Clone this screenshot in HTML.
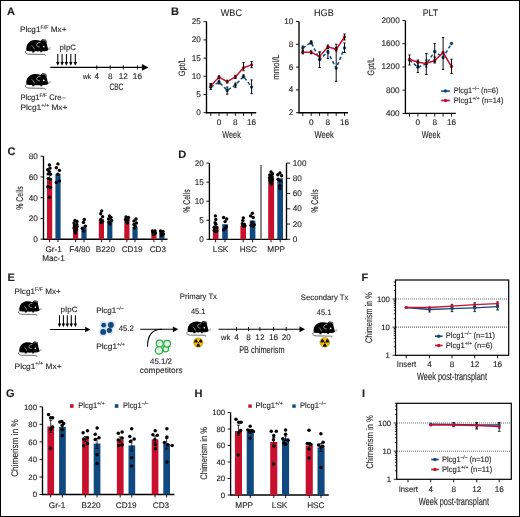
<!DOCTYPE html><html><head><meta charset="utf-8"><style>html,body{margin:0;padding:0;background:#fff;}svg{display:block;will-change:transform;} text{text-rendering:geometricPrecision; font-family:"Liberation Sans", sans-serif; fill:#231f20; stroke:#231f20; stroke-width:0.12px;}</style></head><body>
<svg width="520" height="517" viewBox="0 0 520 517">
<rect x="0" y="0" width="520" height="517" fill="#fff"/>
<rect x="0.5" y="0.5" width="519" height="516" fill="none" stroke="#000" stroke-width="1"/>
<text x="7" y="15.4" font-size="11" font-weight="bold" stroke-width="0.5" >A</text>
<text x="20" y="32" font-size="8" textLength="46.5" lengthAdjust="spacingAndGlyphs">Plcg1<tspan font-size="5.28" dy="-3.04">F/F</tspan><tspan dy="3.04"> Mx+</tspan></text>
<g transform="translate(24 37.6) scale(1)"><path d="M2.4,12.9 C2.0,10.5 2.4,7.8 4.0,5.8 C5.6,3.8 8.0,2.7 10.5,2.5 C12.6,2.3 14.8,2.6 16.6,3.4 C17.2,2.3 18.4,1.6 19.8,1.7 C21.2,1.8 22.4,2.6 22.6,3.6 C22.7,4.4 22.4,4.9 22.5,5.4 C23.0,7.0 23.4,8.8 23.8,10.4 L24.4,12.3 C23.7,12.9 22.9,13.2 22.0,13.3 C21.2,13.4 20.4,13.5 19.6,13.6 L18.4,13.7 L17.9,14.7 L16.3,14.7 L16.4,13.7 C14.6,13.8 12.6,13.8 10.6,13.7 L10.2,14.8 L8.2,14.8 L8.3,13.6 C6.4,13.6 4.4,13.4 3.0,13.3 Z" fill="#000"/><path d="M16.4,4.9 C14.6,4.7 13.0,5.6 12.8,7.0 C12.6,8.4 13.8,9.4 15.8,9.3" fill="none" stroke="#fff" stroke-width="0.6"/><path d="M18.2,3.6 C18.6,2.7 19.6,2.4 20.6,2.6 C21.6,2.9 21.9,3.6 21.6,4.3" fill="none" stroke="#fff" stroke-width="0.45"/><path d="M7.8,7.9 C8.6,8.6 9.2,9.4 9.6,10.1 C10.0,10.8 10.2,11.2 10.4,11.7" fill="none" stroke="#fff" stroke-width="0.55"/><circle cx="19.8" cy="8.9" r="0.85" fill="#fff"/><path d="M2.3,13.0 C1.1,13.6 0.9,15.2 2.2,15.8 C3.0,16.5 4.2,16.6 5.0,16.6 L19.6,16.8 C21.2,16.9 21.8,17.4 21.2,18.3" fill="none" stroke="#444" stroke-width="0.8"/><path d="M24.0,11.0 L26.6,9.9 M24.2,11.6 L26.8,11.3" stroke="#555" stroke-width="0.45"/></g>
<text x="59.4" y="50.2" font-size="7.8" textLength="16.5" lengthAdjust="spacingAndGlyphs" >pIpC</text>
<line x1="57.8" y1="54" x2="57.8" y2="62.7" stroke="#000" stroke-width="1.05" />
<path d="M56.05,62.1 L59.55,62.1 L57.8,65.7 Z" fill="#000"/>
<line x1="62.1" y1="54" x2="62.1" y2="62.7" stroke="#000" stroke-width="1.05" />
<path d="M60.35,62.1 L63.85,62.1 L62.1,65.7 Z" fill="#000"/>
<line x1="66.4" y1="54" x2="66.4" y2="62.7" stroke="#000" stroke-width="1.05" />
<path d="M64.65,62.1 L68.15,62.1 L66.4,65.7 Z" fill="#000"/>
<line x1="70.8" y1="54" x2="70.8" y2="62.7" stroke="#000" stroke-width="1.05" />
<path d="M69.05,62.1 L72.55,62.1 L70.8,65.7 Z" fill="#000"/>
<line x1="75.3" y1="54" x2="75.3" y2="62.7" stroke="#000" stroke-width="1.05" />
<path d="M73.55,62.1 L77.05,62.1 L75.3,65.7 Z" fill="#000"/>
<line x1="50.3" y1="67.4" x2="142.4" y2="67.4" stroke="#000" stroke-width="1.15" />
<path d="M141.9,64 L148.5,67.4 L141.9,70.8 Z" fill="#000"/>
<line x1="96.8" y1="65.3" x2="96.8" y2="69.5" stroke="#000" stroke-width="0.9" />
<line x1="110.2" y1="65.3" x2="110.2" y2="69.5" stroke="#000" stroke-width="0.9" />
<line x1="123.3" y1="65.3" x2="123.3" y2="69.5" stroke="#000" stroke-width="0.9" />
<line x1="137.4" y1="65.3" x2="137.4" y2="69.5" stroke="#000" stroke-width="0.9" />
<text x="83" y="79.1" font-size="7.5" textLength="8" lengthAdjust="spacingAndGlyphs" >wk</text>
<text x="96.8" y="79.1" font-size="8.2" text-anchor="middle" >4</text>
<text x="110.2" y="79.1" font-size="8.2" text-anchor="middle" >8</text>
<text x="123.3" y="79.1" font-size="8.2" text-anchor="middle" >12</text>
<text x="137.4" y="79.1" font-size="8.2" text-anchor="middle" >16</text>
<text x="109.5" y="89.9" font-size="9.4" textLength="13.8" lengthAdjust="spacingAndGlyphs" >CBC</text>
<g transform="translate(24 71.5) scale(1)"><path d="M2.4,12.9 C2.0,10.5 2.4,7.8 4.0,5.8 C5.6,3.8 8.0,2.7 10.5,2.5 C12.6,2.3 14.8,2.6 16.6,3.4 C17.2,2.3 18.4,1.6 19.8,1.7 C21.2,1.8 22.4,2.6 22.6,3.6 C22.7,4.4 22.4,4.9 22.5,5.4 C23.0,7.0 23.4,8.8 23.8,10.4 L24.4,12.3 C23.7,12.9 22.9,13.2 22.0,13.3 C21.2,13.4 20.4,13.5 19.6,13.6 L18.4,13.7 L17.9,14.7 L16.3,14.7 L16.4,13.7 C14.6,13.8 12.6,13.8 10.6,13.7 L10.2,14.8 L8.2,14.8 L8.3,13.6 C6.4,13.6 4.4,13.4 3.0,13.3 Z" fill="#000"/><path d="M16.4,4.9 C14.6,4.7 13.0,5.6 12.8,7.0 C12.6,8.4 13.8,9.4 15.8,9.3" fill="none" stroke="#fff" stroke-width="0.6"/><path d="M18.2,3.6 C18.6,2.7 19.6,2.4 20.6,2.6 C21.6,2.9 21.9,3.6 21.6,4.3" fill="none" stroke="#fff" stroke-width="0.45"/><path d="M7.8,7.9 C8.6,8.6 9.2,9.4 9.6,10.1 C10.0,10.8 10.2,11.2 10.4,11.7" fill="none" stroke="#fff" stroke-width="0.55"/><circle cx="19.8" cy="8.9" r="0.85" fill="#fff"/><path d="M2.3,13.0 C1.1,13.6 0.9,15.2 2.2,15.8 C3.0,16.5 4.2,16.6 5.0,16.6 L19.6,16.8 C21.2,16.9 21.8,17.4 21.2,18.3" fill="none" stroke="#444" stroke-width="0.8"/><path d="M24.0,11.0 L26.6,9.9 M24.2,11.6 L26.8,11.3" stroke="#555" stroke-width="0.45"/></g>
<text x="20.4" y="99.7" font-size="8" textLength="45.4" lengthAdjust="spacingAndGlyphs">Plcg1<tspan font-size="5.28" dy="-3.04">F/F</tspan><tspan dy="3.04"> Cre–</tspan></text>
<text x="20.4" y="110" font-size="8" textLength="47" lengthAdjust="spacingAndGlyphs">Plcg1<tspan font-size="5.28" dy="-3.04">+/+</tspan><tspan dy="3.04"> Mx+</tspan></text>
<text x="171" y="15" font-size="11" font-weight="bold" stroke-width="0.5" >B</text>
<line x1="206.5" y1="21.5" x2="206.5" y2="113.3" stroke="#000" stroke-width="1.35" />
<line x1="205.9" y1="112.7" x2="256.2" y2="112.7" stroke="#000" stroke-width="1.35" />
<line x1="203.5" y1="112.7" x2="206.5" y2="112.7" stroke="#000" stroke-width="0.9" />
<text x="200.8" y="115.2" font-size="8.2" text-anchor="end" >0</text>
<line x1="203.5" y1="94.5" x2="206.5" y2="94.5" stroke="#000" stroke-width="0.9" />
<text x="200.8" y="97" font-size="8.2" text-anchor="end" >5</text>
<line x1="203.5" y1="76.3" x2="206.5" y2="76.3" stroke="#000" stroke-width="0.9" />
<text x="200.8" y="78.8" font-size="8.2" text-anchor="end" >10</text>
<line x1="203.5" y1="58.1" x2="206.5" y2="58.1" stroke="#000" stroke-width="0.9" />
<text x="200.8" y="60.6" font-size="8.2" text-anchor="end" >15</text>
<line x1="203.5" y1="39.9" x2="206.5" y2="39.9" stroke="#000" stroke-width="0.9" />
<text x="200.8" y="42.4" font-size="8.2" text-anchor="end" >20</text>
<line x1="203.5" y1="21.7" x2="206.5" y2="21.7" stroke="#000" stroke-width="0.9" />
<text x="200.8" y="24.2" font-size="8.2" text-anchor="end" >25</text>
<line x1="210.8" y1="112.7" x2="210.8" y2="115.9" stroke="#000" stroke-width="0.9" />
<line x1="219" y1="112.7" x2="219" y2="115.9" stroke="#000" stroke-width="0.9" />
<line x1="227.2" y1="112.7" x2="227.2" y2="115.9" stroke="#000" stroke-width="0.9" />
<line x1="235.4" y1="112.7" x2="235.4" y2="115.9" stroke="#000" stroke-width="0.9" />
<line x1="243.5" y1="112.7" x2="243.5" y2="115.9" stroke="#000" stroke-width="0.9" />
<line x1="251.6" y1="112.7" x2="251.6" y2="115.9" stroke="#000" stroke-width="0.9" />
<text x="219" y="124.8" font-size="8.2" text-anchor="middle" >0</text>
<text x="235.4" y="124.8" font-size="8.2" text-anchor="middle" >8</text>
<text x="251.6" y="124.8" font-size="8.2" text-anchor="middle" >16</text>
<text x="222.3" y="137.8" font-size="10" textLength="18.5" lengthAdjust="spacingAndGlyphs" >Week</text>
<text x="220.8" y="15.8" font-size="9.6" textLength="21.2" lengthAdjust="spacingAndGlyphs" >WBC</text>
<text x="184.85" y="67.1" font-size="9.3" text-anchor="middle" stroke-width="0.22" transform="rotate(-90 184.85 67.1)" textLength="18.2" lengthAdjust="spacingAndGlyphs">Gpt/L</text>
<polyline points="210.8,87.1 219,82 227.2,90.4 235.4,85 243.5,76.3 251.6,87.1" fill="none" stroke="#10497f" stroke-width="1.5" stroke-dasharray="3.4 2.2"/>
<circle cx="210.8" cy="87.1" r="1.65" fill="#10497f" />
<circle cx="219" cy="82" r="1.65" fill="#10497f" />
<circle cx="227.2" cy="90.4" r="1.65" fill="#10497f" />
<circle cx="235.4" cy="85" r="1.65" fill="#10497f" />
<circle cx="243.5" cy="76.3" r="1.65" fill="#10497f" />
<circle cx="251.6" cy="87.1" r="1.65" fill="#10497f" />
<polyline points="210.8,85.7 219,77.1 227.2,81.6 235.4,76.9 243.5,67.7 251.6,64.9" fill="none" stroke="#c8102e" stroke-width="1.5"/>
<circle cx="210.8" cy="85.7" r="1.65" fill="#c8102e" />
<circle cx="219" cy="77.1" r="1.65" fill="#c8102e" />
<circle cx="227.2" cy="81.6" r="1.65" fill="#c8102e" />
<circle cx="235.4" cy="76.9" r="1.65" fill="#c8102e" />
<circle cx="243.5" cy="67.7" r="1.65" fill="#c8102e" />
<circle cx="251.6" cy="64.9" r="1.65" fill="#c8102e" />
<line x1="210.8" y1="84" x2="210.8" y2="87.5" stroke="#000" stroke-width="0.95" />
<line x1="209.6" y1="84" x2="212" y2="84" stroke="#000" stroke-width="0.9" />
<line x1="209.6" y1="87.5" x2="212" y2="87.5" stroke="#000" stroke-width="0.9" />
<line x1="210.8" y1="83.5" x2="210.8" y2="89.6" stroke="#000" stroke-width="0.95" />
<line x1="209.6" y1="83.5" x2="212" y2="83.5" stroke="#000" stroke-width="0.9" />
<line x1="209.6" y1="89.6" x2="212" y2="89.6" stroke="#000" stroke-width="0.9" />
<line x1="219" y1="75.8" x2="219" y2="78.4" stroke="#000" stroke-width="0.95" />
<line x1="217.8" y1="75.8" x2="220.2" y2="75.8" stroke="#000" stroke-width="0.9" />
<line x1="217.8" y1="78.4" x2="220.2" y2="78.4" stroke="#000" stroke-width="0.9" />
<line x1="219" y1="80" x2="219" y2="84" stroke="#000" stroke-width="0.95" />
<line x1="217.8" y1="80" x2="220.2" y2="80" stroke="#000" stroke-width="0.9" />
<line x1="217.8" y1="84" x2="220.2" y2="84" stroke="#000" stroke-width="0.9" />
<line x1="227.2" y1="80.2" x2="227.2" y2="83" stroke="#000" stroke-width="0.95" />
<line x1="226" y1="80.2" x2="228.4" y2="80.2" stroke="#000" stroke-width="0.9" />
<line x1="226" y1="83" x2="228.4" y2="83" stroke="#000" stroke-width="0.9" />
<line x1="227.2" y1="87" x2="227.2" y2="94.2" stroke="#000" stroke-width="0.95" />
<line x1="226" y1="87" x2="228.4" y2="87" stroke="#000" stroke-width="0.9" />
<line x1="226" y1="94.2" x2="228.4" y2="94.2" stroke="#000" stroke-width="0.9" />
<line x1="235.4" y1="75.3" x2="235.4" y2="78.5" stroke="#000" stroke-width="0.95" />
<line x1="234.2" y1="75.3" x2="236.6" y2="75.3" stroke="#000" stroke-width="0.9" />
<line x1="234.2" y1="78.5" x2="236.6" y2="78.5" stroke="#000" stroke-width="0.9" />
<line x1="235.4" y1="83" x2="235.4" y2="87.6" stroke="#000" stroke-width="0.95" />
<line x1="234.2" y1="83" x2="236.6" y2="83" stroke="#000" stroke-width="0.9" />
<line x1="234.2" y1="87.6" x2="236.6" y2="87.6" stroke="#000" stroke-width="0.9" />
<line x1="243.5" y1="62.6" x2="243.5" y2="70.7" stroke="#000" stroke-width="0.95" />
<line x1="242.3" y1="62.6" x2="244.7" y2="62.6" stroke="#000" stroke-width="0.9" />
<line x1="242.3" y1="70.7" x2="244.7" y2="70.7" stroke="#000" stroke-width="0.9" />
<line x1="243.5" y1="74.8" x2="243.5" y2="77.9" stroke="#000" stroke-width="0.95" />
<line x1="242.3" y1="74.8" x2="244.7" y2="74.8" stroke="#000" stroke-width="0.9" />
<line x1="242.3" y1="77.9" x2="244.7" y2="77.9" stroke="#000" stroke-width="0.9" />
<line x1="251.6" y1="61.6" x2="251.6" y2="67.7" stroke="#000" stroke-width="0.95" />
<line x1="250.4" y1="61.6" x2="252.8" y2="61.6" stroke="#000" stroke-width="0.9" />
<line x1="250.4" y1="67.7" x2="252.8" y2="67.7" stroke="#000" stroke-width="0.9" />
<line x1="251.6" y1="79.9" x2="251.6" y2="93.7" stroke="#000" stroke-width="0.95" />
<line x1="250.4" y1="79.9" x2="252.8" y2="79.9" stroke="#000" stroke-width="0.9" />
<line x1="250.4" y1="93.7" x2="252.8" y2="93.7" stroke="#000" stroke-width="0.9" />
<line x1="299" y1="21.5" x2="299" y2="113.3" stroke="#000" stroke-width="1.35" />
<line x1="298.4" y1="112.7" x2="348" y2="112.7" stroke="#000" stroke-width="1.35" />
<line x1="296" y1="112.7" x2="299" y2="112.7" stroke="#000" stroke-width="0.9" />
<text x="293.4" y="115.2" font-size="8.2" text-anchor="end" >2</text>
<line x1="296" y1="89.9" x2="299" y2="89.9" stroke="#000" stroke-width="0.9" />
<text x="293.4" y="92.4" font-size="8.2" text-anchor="end" >4</text>
<line x1="296" y1="67.1" x2="299" y2="67.1" stroke="#000" stroke-width="0.9" />
<text x="293.4" y="69.6" font-size="8.2" text-anchor="end" >6</text>
<line x1="296" y1="44.3" x2="299" y2="44.3" stroke="#000" stroke-width="0.9" />
<text x="293.4" y="46.8" font-size="8.2" text-anchor="end" >8</text>
<line x1="296" y1="21.5" x2="299" y2="21.5" stroke="#000" stroke-width="0.9" />
<text x="293.4" y="24" font-size="8.2" text-anchor="end" >10</text>
<line x1="302.8" y1="112.7" x2="302.8" y2="115.9" stroke="#000" stroke-width="0.9" />
<line x1="311.2" y1="112.7" x2="311.2" y2="115.9" stroke="#000" stroke-width="0.9" />
<line x1="319.6" y1="112.7" x2="319.6" y2="115.9" stroke="#000" stroke-width="0.9" />
<line x1="327.9" y1="112.7" x2="327.9" y2="115.9" stroke="#000" stroke-width="0.9" />
<line x1="336.2" y1="112.7" x2="336.2" y2="115.9" stroke="#000" stroke-width="0.9" />
<line x1="344.5" y1="112.7" x2="344.5" y2="115.9" stroke="#000" stroke-width="0.9" />
<text x="311.2" y="124.8" font-size="8.2" text-anchor="middle" >0</text>
<text x="327.9" y="124.8" font-size="8.2" text-anchor="middle" >8</text>
<text x="344.5" y="124.8" font-size="8.2" text-anchor="middle" >16</text>
<text x="314.4" y="137.8" font-size="10" textLength="19.3" lengthAdjust="spacingAndGlyphs" >Week</text>
<text x="314" y="15.8" font-size="9.6" textLength="19.7" lengthAdjust="spacingAndGlyphs" >HGB</text>
<text x="279.25" y="67.05" font-size="9.3" text-anchor="middle" stroke-width="0.22" transform="rotate(-90 279.25 67.05)" textLength="25.5" lengthAdjust="spacingAndGlyphs">mmol/L</text>
<polyline points="302.8,48.1 311.2,42.4 319.6,59.4 327.9,52 336.2,68.1 344.5,47.8" fill="none" stroke="#10497f" stroke-width="1.5" stroke-dasharray="3.4 2.2"/>
<circle cx="302.8" cy="48.1" r="1.65" fill="#10497f" />
<circle cx="311.2" cy="42.4" r="1.65" fill="#10497f" />
<circle cx="319.6" cy="59.4" r="1.65" fill="#10497f" />
<circle cx="327.9" cy="52" r="1.65" fill="#10497f" />
<circle cx="336.2" cy="68.1" r="1.65" fill="#10497f" />
<circle cx="344.5" cy="47.8" r="1.65" fill="#10497f" />
<polyline points="302.8,52.3 311.2,52.3 319.6,56.4 327.9,46.8 336.2,49.3 344.5,37" fill="none" stroke="#c8102e" stroke-width="1.5"/>
<circle cx="302.8" cy="52.3" r="1.65" fill="#c8102e" />
<circle cx="311.2" cy="52.3" r="1.65" fill="#c8102e" />
<circle cx="319.6" cy="56.4" r="1.65" fill="#c8102e" />
<circle cx="327.9" cy="46.8" r="1.65" fill="#c8102e" />
<circle cx="336.2" cy="49.3" r="1.65" fill="#c8102e" />
<circle cx="344.5" cy="37" r="1.65" fill="#c8102e" />
<line x1="302.8" y1="50.8" x2="302.8" y2="53.8" stroke="#000" stroke-width="0.95" />
<line x1="301.6" y1="50.8" x2="304" y2="50.8" stroke="#000" stroke-width="0.9" />
<line x1="301.6" y1="53.8" x2="304" y2="53.8" stroke="#000" stroke-width="0.9" />
<line x1="302.8" y1="46" x2="302.8" y2="50.8" stroke="#000" stroke-width="0.95" />
<line x1="301.6" y1="46" x2="304" y2="46" stroke="#000" stroke-width="0.9" />
<line x1="301.6" y1="50.8" x2="304" y2="50.8" stroke="#000" stroke-width="0.9" />
<line x1="311.2" y1="50.8" x2="311.2" y2="53.8" stroke="#000" stroke-width="0.95" />
<line x1="310" y1="50.8" x2="312.4" y2="50.8" stroke="#000" stroke-width="0.9" />
<line x1="310" y1="53.8" x2="312.4" y2="53.8" stroke="#000" stroke-width="0.9" />
<line x1="311.2" y1="40.8" x2="311.2" y2="44" stroke="#000" stroke-width="0.95" />
<line x1="310" y1="40.8" x2="312.4" y2="40.8" stroke="#000" stroke-width="0.9" />
<line x1="310" y1="44" x2="312.4" y2="44" stroke="#000" stroke-width="0.9" />
<line x1="319.6" y1="52" x2="319.6" y2="60" stroke="#000" stroke-width="0.95" />
<line x1="318.4" y1="52" x2="320.8" y2="52" stroke="#000" stroke-width="0.9" />
<line x1="318.4" y1="60" x2="320.8" y2="60" stroke="#000" stroke-width="0.9" />
<line x1="319.6" y1="52" x2="319.6" y2="67.5" stroke="#000" stroke-width="0.95" />
<line x1="318.4" y1="52" x2="320.8" y2="52" stroke="#000" stroke-width="0.9" />
<line x1="318.4" y1="67.5" x2="320.8" y2="67.5" stroke="#000" stroke-width="0.9" />
<line x1="327.9" y1="45" x2="327.9" y2="48.5" stroke="#000" stroke-width="0.95" />
<line x1="326.7" y1="45" x2="329.1" y2="45" stroke="#000" stroke-width="0.9" />
<line x1="326.7" y1="48.5" x2="329.1" y2="48.5" stroke="#000" stroke-width="0.9" />
<line x1="327.9" y1="50.2" x2="327.9" y2="58.5" stroke="#000" stroke-width="0.95" />
<line x1="326.7" y1="50.2" x2="329.1" y2="50.2" stroke="#000" stroke-width="0.9" />
<line x1="326.7" y1="58.5" x2="329.1" y2="58.5" stroke="#000" stroke-width="0.9" />
<line x1="336.2" y1="47.5" x2="336.2" y2="51" stroke="#000" stroke-width="0.95" />
<line x1="335" y1="47.5" x2="337.4" y2="47.5" stroke="#000" stroke-width="0.9" />
<line x1="335" y1="51" x2="337.4" y2="51" stroke="#000" stroke-width="0.9" />
<line x1="336.2" y1="44.2" x2="336.2" y2="81.3" stroke="#000" stroke-width="0.95" />
<line x1="335" y1="44.2" x2="337.4" y2="44.2" stroke="#000" stroke-width="0.9" />
<line x1="335" y1="81.3" x2="337.4" y2="81.3" stroke="#000" stroke-width="0.9" />
<line x1="344.5" y1="34" x2="344.5" y2="40" stroke="#000" stroke-width="0.95" />
<line x1="343.3" y1="34" x2="345.7" y2="34" stroke="#000" stroke-width="0.9" />
<line x1="343.3" y1="40" x2="345.7" y2="40" stroke="#000" stroke-width="0.9" />
<line x1="344.5" y1="43" x2="344.5" y2="52.5" stroke="#000" stroke-width="0.95" />
<line x1="343.3" y1="43" x2="345.7" y2="43" stroke="#000" stroke-width="0.9" />
<line x1="343.3" y1="52.5" x2="345.7" y2="52.5" stroke="#000" stroke-width="0.9" />
<line x1="405.4" y1="20.5" x2="405.4" y2="114" stroke="#000" stroke-width="1.35" />
<line x1="404.8" y1="113.4" x2="455.8" y2="113.4" stroke="#000" stroke-width="1.35" />
<line x1="402.4" y1="113.4" x2="405.4" y2="113.4" stroke="#000" stroke-width="0.9" />
<text x="399.7" y="115.9" font-size="8.2" text-anchor="end" >400</text>
<line x1="402.4" y1="90.18" x2="405.4" y2="90.18" stroke="#000" stroke-width="0.9" />
<text x="399.7" y="92.68" font-size="8.2" text-anchor="end" >800</text>
<line x1="402.4" y1="66.96" x2="405.4" y2="66.96" stroke="#000" stroke-width="0.9" />
<text x="399.7" y="69.46" font-size="8.2" text-anchor="end" >1200</text>
<line x1="402.4" y1="43.74" x2="405.4" y2="43.74" stroke="#000" stroke-width="0.9" />
<text x="399.7" y="46.24" font-size="8.2" text-anchor="end" >1600</text>
<line x1="402.4" y1="20.52" x2="405.4" y2="20.52" stroke="#000" stroke-width="0.9" />
<text x="399.7" y="23.02" font-size="8.2" text-anchor="end" >2000</text>
<line x1="409.5" y1="113.4" x2="409.5" y2="116.6" stroke="#000" stroke-width="0.9" />
<line x1="417.9" y1="113.4" x2="417.9" y2="116.6" stroke="#000" stroke-width="0.9" />
<line x1="426.3" y1="113.4" x2="426.3" y2="116.6" stroke="#000" stroke-width="0.9" />
<line x1="434.7" y1="113.4" x2="434.7" y2="116.6" stroke="#000" stroke-width="0.9" />
<line x1="443.1" y1="113.4" x2="443.1" y2="116.6" stroke="#000" stroke-width="0.9" />
<line x1="451.5" y1="113.4" x2="451.5" y2="116.6" stroke="#000" stroke-width="0.9" />
<text x="417.9" y="124.8" font-size="8.2" text-anchor="middle" >0</text>
<text x="434.7" y="124.8" font-size="8.2" text-anchor="middle" >8</text>
<text x="451.5" y="124.8" font-size="8.2" text-anchor="middle" >16</text>
<text x="421.8" y="137.8" font-size="10" textLength="18.5" lengthAdjust="spacingAndGlyphs" >Week</text>
<text x="422.7" y="15.8" font-size="9.6" textLength="15.3" lengthAdjust="spacingAndGlyphs" >PLT</text>
<text x="374.25" y="66.6" font-size="9.3" text-anchor="middle" stroke-width="0.22" transform="rotate(-90 374.25 66.6)" textLength="17.6" lengthAdjust="spacingAndGlyphs">Gpt/L</text>
<polyline points="409.5,60 417.9,67.2 426.3,64 434.7,51.5 443.1,57.5 451.5,43.5" fill="none" stroke="#10497f" stroke-width="1.5" stroke-dasharray="3.4 2.2"/>
<circle cx="409.5" cy="60" r="1.65" fill="#10497f" />
<circle cx="417.9" cy="67.2" r="1.65" fill="#10497f" />
<circle cx="426.3" cy="64" r="1.65" fill="#10497f" />
<circle cx="434.7" cy="51.5" r="1.65" fill="#10497f" />
<circle cx="443.1" cy="57.5" r="1.65" fill="#10497f" />
<circle cx="451.5" cy="43.5" r="1.65" fill="#10497f" />
<polyline points="409.5,59.2 417.9,62.2 426.3,63.5 434.7,60.5 443.1,52.5 451.5,66.5" fill="none" stroke="#c8102e" stroke-width="1.5"/>
<circle cx="409.5" cy="59.2" r="1.65" fill="#c8102e" />
<circle cx="417.9" cy="62.2" r="1.65" fill="#c8102e" />
<circle cx="426.3" cy="63.5" r="1.65" fill="#c8102e" />
<circle cx="434.7" cy="60.5" r="1.65" fill="#c8102e" />
<circle cx="443.1" cy="52.5" r="1.65" fill="#c8102e" />
<circle cx="451.5" cy="66.5" r="1.65" fill="#c8102e" />
<line x1="409.5" y1="55" x2="409.5" y2="65" stroke="#000" stroke-width="0.95" />
<line x1="408.3" y1="55" x2="410.7" y2="55" stroke="#000" stroke-width="0.9" />
<line x1="408.3" y1="65" x2="410.7" y2="65" stroke="#000" stroke-width="0.9" />
<line x1="417.9" y1="60" x2="417.9" y2="66" stroke="#000" stroke-width="0.95" />
<line x1="416.7" y1="60" x2="419.1" y2="60" stroke="#000" stroke-width="0.9" />
<line x1="416.7" y1="66" x2="419.1" y2="66" stroke="#000" stroke-width="0.9" />
<line x1="417.9" y1="61" x2="417.9" y2="72.5" stroke="#000" stroke-width="0.95" />
<line x1="416.7" y1="61" x2="419.1" y2="61" stroke="#000" stroke-width="0.9" />
<line x1="416.7" y1="72.5" x2="419.1" y2="72.5" stroke="#000" stroke-width="0.9" />
<line x1="426.3" y1="60" x2="426.3" y2="67" stroke="#000" stroke-width="0.95" />
<line x1="425.1" y1="60" x2="427.5" y2="60" stroke="#000" stroke-width="0.9" />
<line x1="425.1" y1="67" x2="427.5" y2="67" stroke="#000" stroke-width="0.9" />
<line x1="426.3" y1="53.5" x2="426.3" y2="74.5" stroke="#000" stroke-width="0.95" />
<line x1="425.1" y1="53.5" x2="427.5" y2="53.5" stroke="#000" stroke-width="0.9" />
<line x1="425.1" y1="74.5" x2="427.5" y2="74.5" stroke="#000" stroke-width="0.9" />
<line x1="434.7" y1="57" x2="434.7" y2="63" stroke="#000" stroke-width="0.95" />
<line x1="433.5" y1="57" x2="435.9" y2="57" stroke="#000" stroke-width="0.9" />
<line x1="433.5" y1="63" x2="435.9" y2="63" stroke="#000" stroke-width="0.9" />
<line x1="434.7" y1="43.5" x2="434.7" y2="62" stroke="#000" stroke-width="0.95" />
<line x1="433.5" y1="43.5" x2="435.9" y2="43.5" stroke="#000" stroke-width="0.9" />
<line x1="433.5" y1="62" x2="435.9" y2="62" stroke="#000" stroke-width="0.9" />
<line x1="443.1" y1="37.5" x2="443.1" y2="69.5" stroke="#000" stroke-width="0.95" />
<line x1="441.9" y1="37.5" x2="444.3" y2="37.5" stroke="#000" stroke-width="0.9" />
<line x1="441.9" y1="69.5" x2="444.3" y2="69.5" stroke="#000" stroke-width="0.9" />
<line x1="451.5" y1="59.2" x2="451.5" y2="73.5" stroke="#000" stroke-width="0.95" />
<line x1="450.3" y1="59.2" x2="452.7" y2="59.2" stroke="#000" stroke-width="0.9" />
<line x1="450.3" y1="73.5" x2="452.7" y2="73.5" stroke="#000" stroke-width="0.9" />
<line x1="441.2" y1="91.1" x2="449.9" y2="91.1" stroke="#10497f" stroke-width="1.6" />
<circle cx="445.5" cy="91.1" r="1.75" fill="#10497f" />
<text x="453.8" y="93.4" font-size="7.8" textLength="44.6" lengthAdjust="spacingAndGlyphs">Plcg1<tspan font-size="5.15" dy="-2.96">–/–</tspan><tspan dy="2.96"> (n=6)</tspan></text>
<line x1="441.2" y1="100.5" x2="449.9" y2="100.5" stroke="#c8102e" stroke-width="1.6" />
<circle cx="445.5" cy="100.5" r="1.75" fill="#c8102e" />
<text x="453.8" y="102.8" font-size="7.8" textLength="49.7" lengthAdjust="spacingAndGlyphs">Plcg1<tspan font-size="5.15" dy="-2.96">+/+</tspan><tspan dy="2.96"> (n=14)</tspan></text>
<text x="7.4" y="155.3" font-size="11" font-weight="bold" stroke-width="0.5" >C</text>
<line x1="43.5" y1="156.2" x2="43.5" y2="239.8" stroke="#000" stroke-width="1.35" />
<line x1="42.9" y1="239.2" x2="167.5" y2="239.2" stroke="#000" stroke-width="1.35" />
<line x1="40.5" y1="239.2" x2="43.5" y2="239.2" stroke="#000" stroke-width="0.9" />
<text x="37.9" y="242.1" font-size="8.2" text-anchor="end" >0</text>
<line x1="40.5" y1="218.45" x2="43.5" y2="218.45" stroke="#000" stroke-width="0.9" />
<text x="37.9" y="221.35" font-size="8.2" text-anchor="end" >20</text>
<line x1="40.5" y1="197.7" x2="43.5" y2="197.7" stroke="#000" stroke-width="0.9" />
<text x="37.9" y="200.6" font-size="8.2" text-anchor="end" >40</text>
<line x1="40.5" y1="176.95" x2="43.5" y2="176.95" stroke="#000" stroke-width="0.9" />
<text x="37.9" y="179.85" font-size="8.2" text-anchor="end" >60</text>
<line x1="40.5" y1="156.2" x2="43.5" y2="156.2" stroke="#000" stroke-width="0.9" />
<text x="37.9" y="159.1" font-size="8.2" text-anchor="end" >80</text>
<text x="23.03" y="198" font-size="9.8" text-anchor="middle" stroke-width="0.22" transform="rotate(-90 23.03 198)" textLength="23.5" lengthAdjust="spacingAndGlyphs">% Cells</text>
<line x1="49.6" y1="239.2" x2="49.6" y2="242.2" stroke="#000" stroke-width="0.9" />
<line x1="58" y1="239.2" x2="58" y2="242.2" stroke="#000" stroke-width="0.9" />
<line x1="75.6" y1="239.2" x2="75.6" y2="242.2" stroke="#000" stroke-width="0.9" />
<line x1="84" y1="239.2" x2="84" y2="242.2" stroke="#000" stroke-width="0.9" />
<line x1="101.4" y1="239.2" x2="101.4" y2="242.2" stroke="#000" stroke-width="0.9" />
<line x1="109.8" y1="239.2" x2="109.8" y2="242.2" stroke="#000" stroke-width="0.9" />
<line x1="126.9" y1="239.2" x2="126.9" y2="242.2" stroke="#000" stroke-width="0.9" />
<line x1="135" y1="239.2" x2="135" y2="242.2" stroke="#000" stroke-width="0.9" />
<line x1="153.9" y1="239.2" x2="153.9" y2="242.2" stroke="#000" stroke-width="0.9" />
<line x1="161.9" y1="239.2" x2="161.9" y2="242.2" stroke="#000" stroke-width="0.9" />
<rect x="47" y="180.1" width="5.2" height="59.1" fill="#c8102e"/>
<circle cx="49.4" cy="165" r="1.7" fill="#000" />
<circle cx="50.1" cy="168.1" r="1.7" fill="#000" />
<circle cx="47.8" cy="169.7" r="1.7" fill="#000" />
<circle cx="49.4" cy="171.6" r="1.7" fill="#000" />
<circle cx="48.2" cy="173.9" r="1.7" fill="#000" />
<circle cx="50.5" cy="174.3" r="1.7" fill="#000" />
<circle cx="48.2" cy="178.6" r="1.7" fill="#000" />
<circle cx="50.5" cy="179.4" r="1.7" fill="#000" />
<circle cx="47.8" cy="186.7" r="1.7" fill="#000" />
<circle cx="50.5" cy="187.5" r="1.7" fill="#000" />
<circle cx="49.4" cy="197.2" r="1.7" fill="#000" />
<line x1="49.6" y1="176" x2="49.6" y2="184" stroke="#000" stroke-width="0.8" />
<rect x="55.4" y="173.9" width="5.2" height="65.3" fill="#10497f"/>
<circle cx="57.9" cy="163.9" r="1.7" fill="#000" />
<circle cx="56.3" cy="167.7" r="1.7" fill="#000" />
<circle cx="59.4" cy="170.4" r="1.7" fill="#000" />
<circle cx="57.9" cy="174.3" r="1.7" fill="#000" />
<circle cx="56.3" cy="182.4" r="1.7" fill="#000" />
<circle cx="59.4" cy="180.9" r="1.7" fill="#000" />
<rect x="73" y="226" width="5.2" height="13.2" fill="#c8102e"/>
<circle cx="75" cy="220.5" r="1.7" fill="#000" />
<circle cx="77" cy="221.5" r="1.7" fill="#000" />
<circle cx="74" cy="223" r="1.7" fill="#000" />
<circle cx="76.8" cy="224.5" r="1.7" fill="#000" />
<circle cx="74.5" cy="225.5" r="1.7" fill="#000" />
<circle cx="77" cy="226.5" r="1.7" fill="#000" />
<circle cx="74" cy="228" r="1.7" fill="#000" />
<circle cx="76.5" cy="229.5" r="1.7" fill="#000" />
<circle cx="75" cy="231" r="1.7" fill="#000" />
<circle cx="75.5" cy="233" r="1.7" fill="#000" />
<rect x="81.4" y="227.8" width="5.2" height="11.4" fill="#10497f"/>
<circle cx="84.3" cy="219.5" r="1.7" fill="#000" />
<circle cx="83.4" cy="222.4" r="1.7" fill="#000" />
<circle cx="85.3" cy="226.3" r="1.7" fill="#000" />
<circle cx="82.4" cy="228.2" r="1.7" fill="#000" />
<circle cx="83.8" cy="231.1" r="1.7" fill="#000" />
<rect x="98.8" y="219.2" width="5.2" height="20" fill="#c8102e"/>
<circle cx="101.7" cy="210.9" r="1.7" fill="#000" />
<circle cx="100.7" cy="213.8" r="1.7" fill="#000" />
<circle cx="102.6" cy="216.7" r="1.7" fill="#000" />
<circle cx="100.7" cy="219.5" r="1.7" fill="#000" />
<circle cx="102.6" cy="221.5" r="1.7" fill="#000" />
<circle cx="101.2" cy="222.5" r="1.7" fill="#000" />
<rect x="107.2" y="221.4" width="5.2" height="17.8" fill="#10497f"/>
<circle cx="109.5" cy="216" r="1.7" fill="#000" />
<circle cx="111" cy="217.5" r="1.7" fill="#000" />
<circle cx="108.5" cy="219" r="1.7" fill="#000" />
<circle cx="111.5" cy="220.5" r="1.7" fill="#000" />
<circle cx="109" cy="222" r="1.7" fill="#000" />
<circle cx="110" cy="224" r="1.7" fill="#000" />
<rect x="124.3" y="220.6" width="5.2" height="18.6" fill="#c8102e"/>
<circle cx="126" cy="217" r="1.7" fill="#000" />
<circle cx="128.5" cy="217.5" r="1.7" fill="#000" />
<circle cx="125.5" cy="219.5" r="1.7" fill="#000" />
<circle cx="128" cy="220" r="1.7" fill="#000" />
<circle cx="126.5" cy="222" r="1.7" fill="#000" />
<circle cx="127.5" cy="223" r="1.7" fill="#000" />
<rect x="132.4" y="226.8" width="5.2" height="12.4" fill="#10497f"/>
<circle cx="136" cy="219" r="1.7" fill="#000" />
<circle cx="134" cy="221" r="1.7" fill="#000" />
<circle cx="136.5" cy="223" r="1.7" fill="#000" />
<circle cx="134" cy="224.5" r="1.7" fill="#000" />
<circle cx="135.5" cy="226.5" r="1.7" fill="#000" />
<circle cx="134.5" cy="228" r="1.7" fill="#000" />
<rect x="151.3" y="232.7" width="5.2" height="6.5" fill="#c8102e"/>
<circle cx="152.5" cy="231" r="1.7" fill="#000" />
<circle cx="155" cy="231" r="1.7" fill="#000" />
<circle cx="153" cy="232.5" r="1.7" fill="#000" />
<circle cx="155.5" cy="233" r="1.7" fill="#000" />
<circle cx="153.5" cy="234.5" r="1.7" fill="#000" />
<rect x="159.3" y="233.5" width="5.2" height="5.7" fill="#10497f"/>
<circle cx="160.5" cy="231" r="1.7" fill="#000" />
<circle cx="163" cy="231.5" r="1.7" fill="#000" />
<circle cx="161" cy="233" r="1.7" fill="#000" />
<circle cx="163.5" cy="234" r="1.7" fill="#000" />
<circle cx="161.5" cy="235.5" r="1.7" fill="#000" />
<text x="53.6" y="251.8" font-size="8.2" text-anchor="middle" >Gr-1</text>
<text x="79.6" y="251.8" font-size="8.2" text-anchor="middle" >F4/80</text>
<text x="105.4" y="251.8" font-size="8.2" text-anchor="middle" >B220</text>
<text x="132.1" y="251.8" font-size="8.2" text-anchor="middle" >CD19</text>
<text x="157.9" y="251.8" font-size="8.2" text-anchor="middle" >CD3</text>
<text x="53.5" y="261.4" font-size="8.2" text-anchor="middle" >Mac-1</text>
<text x="178.3" y="157.5" font-size="11" font-weight="bold" stroke-width="0.5" >D</text>
<line x1="209.4" y1="163.1" x2="209.4" y2="239.9" stroke="#000" stroke-width="1.35" />
<line x1="208.8" y1="239.3" x2="286.5" y2="239.3" stroke="#000" stroke-width="1.35" />
<line x1="206.4" y1="239.3" x2="209.4" y2="239.3" stroke="#000" stroke-width="0.9" />
<text x="203.8" y="241.7" font-size="8.2" text-anchor="end" >0</text>
<line x1="206.4" y1="220.25" x2="209.4" y2="220.25" stroke="#000" stroke-width="0.9" />
<text x="203.8" y="222.65" font-size="8.2" text-anchor="end" >5</text>
<line x1="206.4" y1="201.2" x2="209.4" y2="201.2" stroke="#000" stroke-width="0.9" />
<text x="203.8" y="203.6" font-size="8.2" text-anchor="end" >10</text>
<line x1="206.4" y1="182.15" x2="209.4" y2="182.15" stroke="#000" stroke-width="0.9" />
<text x="203.8" y="184.55" font-size="8.2" text-anchor="end" >15</text>
<line x1="206.4" y1="163.1" x2="209.4" y2="163.1" stroke="#000" stroke-width="0.9" />
<text x="203.8" y="165.5" font-size="8.2" text-anchor="end" >20</text>
<line x1="286.5" y1="163.1" x2="286.5" y2="239.9" stroke="#000" stroke-width="1.35" />
<line x1="286.5" y1="239.3" x2="290.2" y2="239.3" stroke="#000" stroke-width="0.9" />
<text x="292.8" y="241.9" font-size="8.2" >0</text>
<line x1="286.5" y1="224.06" x2="290.2" y2="224.06" stroke="#000" stroke-width="0.9" />
<text x="292.8" y="226.66" font-size="8.2" >20</text>
<line x1="286.5" y1="208.82" x2="290.2" y2="208.82" stroke="#000" stroke-width="0.9" />
<text x="292.8" y="211.42" font-size="8.2" >40</text>
<line x1="286.5" y1="193.58" x2="290.2" y2="193.58" stroke="#000" stroke-width="0.9" />
<text x="292.8" y="196.18" font-size="8.2" >60</text>
<line x1="286.5" y1="178.34" x2="290.2" y2="178.34" stroke="#000" stroke-width="0.9" />
<text x="292.8" y="180.94" font-size="8.2" >80</text>
<line x1="286.5" y1="163.1" x2="290.2" y2="163.1" stroke="#000" stroke-width="0.9" />
<text x="292.8" y="165.7" font-size="8.2" >100</text>
<line x1="261" y1="164.9" x2="261" y2="239.3" stroke="#7d7d7d" stroke-width="1.8" />
<text x="189.83" y="201.1" font-size="9.8" text-anchor="middle" stroke-width="0.22" transform="rotate(-90 189.83 201.1)" textLength="23.4" lengthAdjust="spacingAndGlyphs">% Cells</text>
<text x="317.73" y="201.1" font-size="9.8" text-anchor="middle" stroke-width="0.22" transform="rotate(-90 317.73 201.1)" textLength="23.4" lengthAdjust="spacingAndGlyphs">% Cells</text>
<line x1="215.6" y1="239.3" x2="215.6" y2="242.3" stroke="#000" stroke-width="0.9" />
<line x1="225" y1="239.3" x2="225" y2="242.3" stroke="#000" stroke-width="0.9" />
<line x1="243.2" y1="239.3" x2="243.2" y2="242.3" stroke="#000" stroke-width="0.9" />
<line x1="252.6" y1="239.3" x2="252.6" y2="242.3" stroke="#000" stroke-width="0.9" />
<line x1="271" y1="239.3" x2="271" y2="242.3" stroke="#000" stroke-width="0.9" />
<line x1="280.2" y1="239.3" x2="280.2" y2="242.3" stroke="#000" stroke-width="0.9" />
<rect x="212.9" y="226.3" width="5.6" height="13" fill="#c8102e"/>
<circle cx="215.3" cy="215.9" r="1.7" fill="#000" />
<circle cx="215.8" cy="219.5" r="1.7" fill="#000" />
<circle cx="215.1" cy="222.7" r="1.7" fill="#000" />
<circle cx="215.8" cy="224.2" r="1.7" fill="#000" />
<circle cx="214.2" cy="227.3" r="1.7" fill="#000" />
<circle cx="216.8" cy="227.8" r="1.7" fill="#000" />
<circle cx="214.2" cy="230.4" r="1.7" fill="#000" />
<circle cx="216.8" cy="231" r="1.7" fill="#000" />
<circle cx="215.3" cy="231.5" r="1.7" fill="#000" />
<rect x="222.2" y="224.2" width="5.6" height="15.1" fill="#10497f"/>
<circle cx="223.6" cy="217.5" r="1.7" fill="#000" />
<circle cx="226.7" cy="219" r="1.7" fill="#000" />
<circle cx="225.1" cy="221.6" r="1.7" fill="#000" />
<circle cx="226.2" cy="226.8" r="1.7" fill="#000" />
<circle cx="223.6" cy="229.9" r="1.7" fill="#000" />
<circle cx="225.1" cy="228.4" r="1.7" fill="#000" />
<rect x="240.4" y="225.8" width="5.6" height="13.5" fill="#c8102e"/>
<circle cx="243.3" cy="218" r="1.7" fill="#000" />
<circle cx="242.8" cy="220.6" r="1.7" fill="#000" />
<circle cx="242.3" cy="223.7" r="1.7" fill="#000" />
<circle cx="244.3" cy="224.2" r="1.7" fill="#000" />
<circle cx="242.8" cy="225.2" r="1.7" fill="#000" />
<circle cx="244.9" cy="225.8" r="1.7" fill="#000" />
<circle cx="243.8" cy="226.3" r="1.7" fill="#000" />
<rect x="249.8" y="220.6" width="5.6" height="18.7" fill="#10497f"/>
<circle cx="252.4" cy="213.3" r="1.7" fill="#000" />
<circle cx="250.6" cy="215.9" r="1.7" fill="#000" />
<circle cx="253.2" cy="217.5" r="1.7" fill="#000" />
<circle cx="252.1" cy="222.1" r="1.7" fill="#000" />
<circle cx="251.1" cy="225.2" r="1.7" fill="#000" />
<circle cx="254.2" cy="224.7" r="1.7" fill="#000" />
<circle cx="253.2" cy="226.3" r="1.7" fill="#000" />
<rect x="268.2" y="179.2" width="5.9" height="60.1" fill="#c8102e"/>
<circle cx="271" cy="172" r="1.7" fill="#000" />
<circle cx="272.5" cy="173.8" r="1.7" fill="#000" />
<circle cx="269.8" cy="175" r="1.7" fill="#000" />
<circle cx="272" cy="176.5" r="1.7" fill="#000" />
<circle cx="269.5" cy="177.8" r="1.7" fill="#000" />
<circle cx="272.5" cy="178.8" r="1.7" fill="#000" />
<circle cx="270" cy="180.2" r="1.7" fill="#000" />
<circle cx="272" cy="181.2" r="1.7" fill="#000" />
<circle cx="270.5" cy="182.5" r="1.7" fill="#000" />
<circle cx="271.5" cy="184" r="1.7" fill="#000" />
<rect x="277.3" y="178.3" width="5.7" height="61" fill="#10497f"/>
<circle cx="279.9" cy="173" r="1.7" fill="#000" />
<circle cx="277.8" cy="174.8" r="1.7" fill="#000" />
<circle cx="281.6" cy="175.7" r="1.7" fill="#000" />
<circle cx="278.1" cy="179.2" r="1.7" fill="#000" />
<circle cx="280.2" cy="180.9" r="1.7" fill="#000" />
<circle cx="279.9" cy="185.8" r="1.7" fill="#000" />
<circle cx="279.9" cy="188.5" r="1.7" fill="#000" />
<text x="220.6" y="251.5" font-size="8.2" text-anchor="middle" >LSK</text>
<text x="248.3" y="251.5" font-size="8.2" text-anchor="middle" >HSC</text>
<text x="276.2" y="251.5" font-size="8.2" text-anchor="middle" >MPP</text>
<text x="7.4" y="281.2" font-size="11" font-weight="bold" stroke-width="0.5" >E</text>
<text x="14.6" y="293.9" font-size="8" textLength="46.2" lengthAdjust="spacingAndGlyphs">Plcg1<tspan font-size="5.28" dy="-3.04">F/F</tspan><tspan dy="3.04"> Mx+</tspan></text>
<g transform="translate(17.2 299) scale(0.92)"><path d="M2.4,12.9 C2.0,10.5 2.4,7.8 4.0,5.8 C5.6,3.8 8.0,2.7 10.5,2.5 C12.6,2.3 14.8,2.6 16.6,3.4 C17.2,2.3 18.4,1.6 19.8,1.7 C21.2,1.8 22.4,2.6 22.6,3.6 C22.7,4.4 22.4,4.9 22.5,5.4 C23.0,7.0 23.4,8.8 23.8,10.4 L24.4,12.3 C23.7,12.9 22.9,13.2 22.0,13.3 C21.2,13.4 20.4,13.5 19.6,13.6 L18.4,13.7 L17.9,14.7 L16.3,14.7 L16.4,13.7 C14.6,13.8 12.6,13.8 10.6,13.7 L10.2,14.8 L8.2,14.8 L8.3,13.6 C6.4,13.6 4.4,13.4 3.0,13.3 Z" fill="#000"/><path d="M16.4,4.9 C14.6,4.7 13.0,5.6 12.8,7.0 C12.6,8.4 13.8,9.4 15.8,9.3" fill="none" stroke="#fff" stroke-width="0.6"/><path d="M18.2,3.6 C18.6,2.7 19.6,2.4 20.6,2.6 C21.6,2.9 21.9,3.6 21.6,4.3" fill="none" stroke="#fff" stroke-width="0.45"/><path d="M7.8,7.9 C8.6,8.6 9.2,9.4 9.6,10.1 C10.0,10.8 10.2,11.2 10.4,11.7" fill="none" stroke="#fff" stroke-width="0.55"/><circle cx="19.8" cy="8.9" r="0.85" fill="#fff"/><path d="M2.3,13.0 C1.1,13.6 0.9,15.2 2.2,15.8 C3.0,16.5 4.2,16.6 5.0,16.6 L19.6,16.8 C21.2,16.9 21.8,17.4 21.2,18.3" fill="none" stroke="#444" stroke-width="0.8"/><path d="M24.0,11.0 L26.6,9.9 M24.2,11.6 L26.8,11.3" stroke="#555" stroke-width="0.45"/></g>
<text x="60.5" y="311.5" font-size="7.8" textLength="17" lengthAdjust="spacingAndGlyphs" >pIpC</text>
<line x1="59.5" y1="315.2" x2="59.5" y2="324.2" stroke="#000" stroke-width="1.05" />
<path d="M57.75,323.6 L61.25,323.6 L59.5,327.2 Z" fill="#000"/>
<line x1="63.4" y1="315.2" x2="63.4" y2="324.2" stroke="#000" stroke-width="1.05" />
<path d="M61.65,323.6 L65.15,323.6 L63.4,327.2 Z" fill="#000"/>
<line x1="67.3" y1="315.2" x2="67.3" y2="324.2" stroke="#000" stroke-width="1.05" />
<path d="M65.55,323.6 L69.05,323.6 L67.3,327.2 Z" fill="#000"/>
<line x1="71.3" y1="315.2" x2="71.3" y2="324.2" stroke="#000" stroke-width="1.05" />
<path d="M69.55,323.6 L73.05,323.6 L71.3,327.2 Z" fill="#000"/>
<line x1="75.4" y1="315.2" x2="75.4" y2="324.2" stroke="#000" stroke-width="1.05" />
<path d="M73.65,323.6 L77.15,323.6 L75.4,327.2 Z" fill="#000"/>
<line x1="50" y1="329.5" x2="85.7" y2="329.5" stroke="#000" stroke-width="1.1" />
<path d="M85.2,326.7 L90.2,329.5 L85.2,332.3 Z" fill="#000"/>
<g transform="translate(17.2 340) scale(0.92)"><path d="M2.4,12.9 C2.0,10.5 2.4,7.8 4.0,5.8 C5.6,3.8 8.0,2.7 10.5,2.5 C12.6,2.3 14.8,2.6 16.6,3.4 C17.2,2.3 18.4,1.6 19.8,1.7 C21.2,1.8 22.4,2.6 22.6,3.6 C22.7,4.4 22.4,4.9 22.5,5.4 C23.0,7.0 23.4,8.8 23.8,10.4 L24.4,12.3 C23.7,12.9 22.9,13.2 22.0,13.3 C21.2,13.4 20.4,13.5 19.6,13.6 L18.4,13.7 L17.9,14.7 L16.3,14.7 L16.4,13.7 C14.6,13.8 12.6,13.8 10.6,13.7 L10.2,14.8 L8.2,14.8 L8.3,13.6 C6.4,13.6 4.4,13.4 3.0,13.3 Z" fill="#000"/><path d="M16.4,4.9 C14.6,4.7 13.0,5.6 12.8,7.0 C12.6,8.4 13.8,9.4 15.8,9.3" fill="none" stroke="#fff" stroke-width="0.6"/><path d="M18.2,3.6 C18.6,2.7 19.6,2.4 20.6,2.6 C21.6,2.9 21.9,3.6 21.6,4.3" fill="none" stroke="#fff" stroke-width="0.45"/><path d="M7.8,7.9 C8.6,8.6 9.2,9.4 9.6,10.1 C10.0,10.8 10.2,11.2 10.4,11.7" fill="none" stroke="#fff" stroke-width="0.55"/><circle cx="19.8" cy="8.9" r="0.85" fill="#fff"/><path d="M2.3,13.0 C1.1,13.6 0.9,15.2 2.2,15.8 C3.0,16.5 4.2,16.6 5.0,16.6 L19.6,16.8 C21.2,16.9 21.8,17.4 21.2,18.3" fill="none" stroke="#444" stroke-width="0.8"/><path d="M24.0,11.0 L26.6,9.9 M24.2,11.6 L26.8,11.3" stroke="#555" stroke-width="0.45"/></g>
<text x="14.6" y="368.5" font-size="8" textLength="46.9" lengthAdjust="spacingAndGlyphs">Plcg1<tspan font-size="5.28" dy="-3.04">+/+</tspan><tspan dy="3.04"> Mx+</tspan></text>
<text x="96.2" y="313" font-size="8" textLength="27.5" lengthAdjust="spacingAndGlyphs">Plcg1<tspan font-size="5.28" dy="-3.04">–/–</tspan></text>
<circle cx="103.7" cy="325.2" r="4" fill="#d8e4f1" />
<circle cx="110.9" cy="325" r="4.6" fill="#d8e4f1" />
<circle cx="103.2" cy="331.9" r="4.6" fill="#d8e4f1" />
<circle cx="109.4" cy="330.3" r="4.2" fill="#d8e4f1" />
<circle cx="103.7" cy="325.2" r="2.4" fill="#10497f" />
<circle cx="110.9" cy="325" r="2.9" fill="#10497f" />
<circle cx="109.4" cy="330.3" r="2.6" fill="#10497f" />
<circle cx="103.2" cy="331.9" r="2.9" fill="#10497f" />
<text x="118.7" y="331.2" font-size="8" textLength="15" lengthAdjust="spacingAndGlyphs" >45.2</text>
<text x="96.2" y="348.7" font-size="8" textLength="28.8" lengthAdjust="spacingAndGlyphs">Plcg1<tspan font-size="5.28" dy="-3.04">+/+</tspan></text>
<line x1="140.3" y1="329.3" x2="173.3" y2="329.3" stroke="#000" stroke-width="1.1" />
<path d="M172.8,326.4 L178.3,329.3 L172.8,332.2 Z" fill="#000"/>
<path d="M147.5,346.7 C147.5,336 152,329.3 162,329.3" fill="none" stroke="#000" stroke-width="1.1"/>
<circle cx="165.7" cy="349" r="2.85" fill="#e4f4e4" stroke="#25b040" stroke-width="1.2"/>
<circle cx="167.1" cy="343.7" r="3.35" fill="#e4f4e4" stroke="#25b040" stroke-width="1.2"/>
<circle cx="159.7" cy="343.5" r="3.45" fill="#e4f4e4" stroke="#25b040" stroke-width="1.2"/>
<circle cx="159" cy="350.4" r="3.65" fill="#e4f4e4" stroke="#25b040" stroke-width="1.2"/>
<text x="150" y="363.7" font-size="8" textLength="22" lengthAdjust="spacingAndGlyphs" >45.1/2</text>
<text x="139.8" y="372.7" font-size="8.2" textLength="42.8" lengthAdjust="spacingAndGlyphs" >competitors</text>
<text x="179.8" y="298.7" font-size="8" textLength="37.2" lengthAdjust="spacingAndGlyphs" >Primary Tx</text>
<text x="190.9" y="314.3" font-size="8" textLength="14.4" lengthAdjust="spacingAndGlyphs" >45.1</text>
<g transform="translate(185.5 319.3) scale(0.95)"><path d="M2.4,12.9 C2.0,10.5 2.4,7.8 4.0,5.8 C5.6,3.8 8.0,2.7 10.5,2.5 C12.6,2.3 14.8,2.6 16.6,3.4 C17.2,2.3 18.4,1.6 19.8,1.7 C21.2,1.8 22.4,2.6 22.6,3.6 C22.7,4.4 22.4,4.9 22.5,5.4 C23.0,7.0 23.4,8.8 23.8,10.4 L24.4,12.3 C23.7,12.9 22.9,13.2 22.0,13.3 C21.2,13.4 20.4,13.5 19.6,13.6 L18.4,13.7 L17.9,14.7 L16.3,14.7 L16.4,13.7 C14.6,13.8 12.6,13.8 10.6,13.7 L10.2,14.8 L8.2,14.8 L8.3,13.6 C6.4,13.6 4.4,13.4 3.0,13.3 Z" fill="#000"/><path d="M16.4,4.9 C14.6,4.7 13.0,5.6 12.8,7.0 C12.6,8.4 13.8,9.4 15.8,9.3" fill="none" stroke="#fff" stroke-width="0.6"/><path d="M18.2,3.6 C18.6,2.7 19.6,2.4 20.6,2.6 C21.6,2.9 21.9,3.6 21.6,4.3" fill="none" stroke="#fff" stroke-width="0.45"/><path d="M7.8,7.9 C8.6,8.6 9.2,9.4 9.6,10.1 C10.0,10.8 10.2,11.2 10.4,11.7" fill="none" stroke="#fff" stroke-width="0.55"/><circle cx="19.8" cy="8.9" r="0.85" fill="#fff"/><path d="M2.3,13.0 C1.1,13.6 0.9,15.2 2.2,15.8 C3.0,16.5 4.2,16.6 5.0,16.6 L19.6,16.8 C21.2,16.9 21.8,17.4 21.2,18.3" fill="none" stroke="#444" stroke-width="0.8"/><path d="M24.0,11.0 L26.6,9.9 M24.2,11.6 L26.8,11.3" stroke="#555" stroke-width="0.45"/></g>
<circle cx="198.3" cy="342.6" r="4.7" fill="#f6c000" stroke="#a87e00" stroke-width="0.5"/>
<path d="M197.12,342.60 L194.16,342.60 A4.136,4.136 0 0 1 196.23,339.02 L197.71,341.58 A1.175,1.175 0 0 0 197.12,342.60 Z M198.89,341.58 L200.37,339.02 A4.136,4.136 0 0 1 202.44,342.60 L199.48,342.60 A1.175,1.175 0 0 0 198.89,341.58 Z M198.89,343.62 L200.37,346.18 A4.136,4.136 0 0 1 196.23,346.18 L197.71,343.62 A1.175,1.175 0 0 0 198.89,343.62 Z " fill="#111"/>
<circle cx="198.3" cy="342.6" r="0.7" fill="#111" />
<line x1="218.5" y1="329.3" x2="300" y2="329.3" stroke="#000" stroke-width="1.1" />
<path d="M299.5,326.3 L305,329.3 L299.5,332.3 Z" fill="#000"/>
<line x1="236.5" y1="327" x2="236.5" y2="331.2" stroke="#000" stroke-width="0.9" />
<line x1="248.5" y1="327" x2="248.5" y2="331.2" stroke="#000" stroke-width="0.9" />
<line x1="259.9" y1="327" x2="259.9" y2="331.2" stroke="#000" stroke-width="0.9" />
<line x1="273.5" y1="327" x2="273.5" y2="331.2" stroke="#000" stroke-width="0.9" />
<line x1="286.2" y1="327" x2="286.2" y2="331.2" stroke="#000" stroke-width="0.9" />
<text x="221" y="339.8" font-size="7.8" textLength="9.2" lengthAdjust="spacingAndGlyphs" >wk</text>
<text x="236.5" y="339.9" font-size="8.2" text-anchor="middle" >4</text>
<text x="248.5" y="339.9" font-size="8.2" text-anchor="middle" >8</text>
<text x="259.9" y="339.9" font-size="8.2" text-anchor="middle" >12</text>
<text x="273.5" y="339.9" font-size="8.2" text-anchor="middle" >16</text>
<text x="286.2" y="339.9" font-size="8.2" text-anchor="middle" >20</text>
<text x="239.2" y="352.6" font-size="9.8" textLength="45.4" lengthAdjust="spacingAndGlyphs" >PB chimerism</text>
<text x="300.8" y="299.9" font-size="8" textLength="47.6" lengthAdjust="spacingAndGlyphs" >Secondary Tx</text>
<text x="316.8" y="314.8" font-size="8" textLength="14.5" lengthAdjust="spacingAndGlyphs" >45.1</text>
<g transform="translate(311.4 319.8) scale(0.97)"><path d="M2.4,12.9 C2.0,10.5 2.4,7.8 4.0,5.8 C5.6,3.8 8.0,2.7 10.5,2.5 C12.6,2.3 14.8,2.6 16.6,3.4 C17.2,2.3 18.4,1.6 19.8,1.7 C21.2,1.8 22.4,2.6 22.6,3.6 C22.7,4.4 22.4,4.9 22.5,5.4 C23.0,7.0 23.4,8.8 23.8,10.4 L24.4,12.3 C23.7,12.9 22.9,13.2 22.0,13.3 C21.2,13.4 20.4,13.5 19.6,13.6 L18.4,13.7 L17.9,14.7 L16.3,14.7 L16.4,13.7 C14.6,13.8 12.6,13.8 10.6,13.7 L10.2,14.8 L8.2,14.8 L8.3,13.6 C6.4,13.6 4.4,13.4 3.0,13.3 Z" fill="#000"/><path d="M16.4,4.9 C14.6,4.7 13.0,5.6 12.8,7.0 C12.6,8.4 13.8,9.4 15.8,9.3" fill="none" stroke="#fff" stroke-width="0.6"/><path d="M18.2,3.6 C18.6,2.7 19.6,2.4 20.6,2.6 C21.6,2.9 21.9,3.6 21.6,4.3" fill="none" stroke="#fff" stroke-width="0.45"/><path d="M7.8,7.9 C8.6,8.6 9.2,9.4 9.6,10.1 C10.0,10.8 10.2,11.2 10.4,11.7" fill="none" stroke="#fff" stroke-width="0.55"/><circle cx="19.8" cy="8.9" r="0.85" fill="#fff"/><path d="M2.3,13.0 C1.1,13.6 0.9,15.2 2.2,15.8 C3.0,16.5 4.2,16.6 5.0,16.6 L19.6,16.8 C21.2,16.9 21.8,17.4 21.2,18.3" fill="none" stroke="#444" stroke-width="0.8"/><path d="M24.0,11.0 L26.6,9.9 M24.2,11.6 L26.8,11.3" stroke="#555" stroke-width="0.45"/></g>
<circle cx="324.8" cy="342.4" r="4.9" fill="#f6c000" stroke="#a87e00" stroke-width="0.5"/>
<path d="M323.57,342.40 L320.49,342.40 A4.312,4.312 0 0 1 322.64,338.67 L324.19,341.34 A1.225,1.225 0 0 0 323.57,342.40 Z M325.41,341.34 L326.96,338.67 A4.312,4.312 0 0 1 329.11,342.40 L326.03,342.40 A1.225,1.225 0 0 0 325.41,341.34 Z M325.41,343.46 L326.96,346.13 A4.312,4.312 0 0 1 322.64,346.13 L324.19,343.46 A1.225,1.225 0 0 0 325.41,343.46 Z " fill="#111"/>
<circle cx="324.8" cy="342.4" r="0.73" fill="#111" />
<text x="361.6" y="281.2" font-size="11" font-weight="bold" stroke-width="0.5" >F</text>
<line x1="396" y1="299" x2="508.2" y2="299" stroke="#6a6a6a" stroke-width="1.1" stroke-dasharray="1 1"/>
<line x1="396" y1="327.1" x2="508.2" y2="327.1" stroke="#6a6a6a" stroke-width="1.1" stroke-dasharray="1 1"/>
<rect x="395.5" y="280" width="113.2" height="75.3" fill="none" stroke="#000" stroke-width="1.2"/>
<line x1="392.5" y1="355.3" x2="395.5" y2="355.3" stroke="#000" stroke-width="0.8" />
<line x1="393.7" y1="346.83" x2="395.5" y2="346.83" stroke="#000" stroke-width="0.8" />
<line x1="393.7" y1="341.87" x2="395.5" y2="341.87" stroke="#000" stroke-width="0.8" />
<line x1="393.7" y1="338.35" x2="395.5" y2="338.35" stroke="#000" stroke-width="0.8" />
<line x1="393.7" y1="335.62" x2="395.5" y2="335.62" stroke="#000" stroke-width="0.8" />
<line x1="393.7" y1="333.4" x2="395.5" y2="333.4" stroke="#000" stroke-width="0.8" />
<line x1="393.7" y1="331.51" x2="395.5" y2="331.51" stroke="#000" stroke-width="0.8" />
<line x1="393.7" y1="329.88" x2="395.5" y2="329.88" stroke="#000" stroke-width="0.8" />
<line x1="393.7" y1="328.44" x2="395.5" y2="328.44" stroke="#000" stroke-width="0.8" />
<line x1="392.5" y1="327.15" x2="395.5" y2="327.15" stroke="#000" stroke-width="0.8" />
<line x1="393.7" y1="318.68" x2="395.5" y2="318.68" stroke="#000" stroke-width="0.8" />
<line x1="393.7" y1="313.72" x2="395.5" y2="313.72" stroke="#000" stroke-width="0.8" />
<line x1="393.7" y1="310.2" x2="395.5" y2="310.2" stroke="#000" stroke-width="0.8" />
<line x1="393.7" y1="307.47" x2="395.5" y2="307.47" stroke="#000" stroke-width="0.8" />
<line x1="393.7" y1="305.25" x2="395.5" y2="305.25" stroke="#000" stroke-width="0.8" />
<line x1="393.7" y1="303.36" x2="395.5" y2="303.36" stroke="#000" stroke-width="0.8" />
<line x1="393.7" y1="301.73" x2="395.5" y2="301.73" stroke="#000" stroke-width="0.8" />
<line x1="393.7" y1="300.29" x2="395.5" y2="300.29" stroke="#000" stroke-width="0.8" />
<line x1="392.5" y1="299" x2="395.5" y2="299" stroke="#000" stroke-width="0.8" />
<line x1="393.7" y1="290.53" x2="395.5" y2="290.53" stroke="#000" stroke-width="0.8" />
<line x1="393.7" y1="285.57" x2="395.5" y2="285.57" stroke="#000" stroke-width="0.8" />
<line x1="393.7" y1="282.05" x2="395.5" y2="282.05" stroke="#000" stroke-width="0.8" />
<text x="389.9" y="301.8" font-size="7.8" text-anchor="end" >100</text>
<text x="389.9" y="329.9" font-size="7.8" text-anchor="end" >10</text>
<text x="389.9" y="358.1" font-size="7.8" text-anchor="end" >1</text>
<line x1="406.2" y1="355.3" x2="406.2" y2="358.3" stroke="#000" stroke-width="0.9" />
<line x1="429.5" y1="355.3" x2="429.5" y2="358.3" stroke="#000" stroke-width="0.9" />
<line x1="452" y1="355.3" x2="452" y2="358.3" stroke="#000" stroke-width="0.9" />
<line x1="474.7" y1="355.3" x2="474.7" y2="358.3" stroke="#000" stroke-width="0.9" />
<line x1="497.5" y1="355.3" x2="497.5" y2="358.3" stroke="#000" stroke-width="0.9" />
<text x="406.5" y="367.2" font-size="8.3" text-anchor="middle" textLength="19.3" lengthAdjust="spacingAndGlyphs" >Insert</text>
<text x="429.5" y="367.2" font-size="8.2" text-anchor="middle" >4</text>
<text x="452" y="367.2" font-size="8.2" text-anchor="middle" >8</text>
<text x="474.7" y="367.2" font-size="8.2" text-anchor="middle" >12</text>
<text x="497.5" y="367.2" font-size="8.2" text-anchor="middle" >16</text>
<text x="417" y="380.4" font-size="10.6" textLength="70" lengthAdjust="spacingAndGlyphs" >Week post-transplant</text>
<text x="371.82" y="317.7" font-size="9.5" text-anchor="middle" stroke-width="0.22" transform="rotate(-90 371.82 317.7)" textLength="50.5" lengthAdjust="spacingAndGlyphs">Chimerism in %</text>
<line x1="429.5" y1="308" x2="429.5" y2="312" stroke="#000" stroke-width="0.8" />
<line x1="428.2" y1="308" x2="430.8" y2="308" stroke="#000" stroke-width="0.8" />
<line x1="428.2" y1="312" x2="430.8" y2="312" stroke="#000" stroke-width="0.8" />
<line x1="452" y1="304.3" x2="452" y2="307.8" stroke="#000" stroke-width="0.8" />
<line x1="450.7" y1="304.3" x2="453.3" y2="304.3" stroke="#000" stroke-width="0.8" />
<line x1="450.7" y1="307.8" x2="453.3" y2="307.8" stroke="#000" stroke-width="0.8" />
<line x1="452" y1="307" x2="452" y2="311.6" stroke="#000" stroke-width="0.8" />
<line x1="450.7" y1="307" x2="453.3" y2="307" stroke="#000" stroke-width="0.8" />
<line x1="450.7" y1="311.6" x2="453.3" y2="311.6" stroke="#000" stroke-width="0.8" />
<line x1="474.7" y1="302.8" x2="474.7" y2="306.6" stroke="#000" stroke-width="0.8" />
<line x1="473.4" y1="302.8" x2="476" y2="302.8" stroke="#000" stroke-width="0.8" />
<line x1="473.4" y1="306.6" x2="476" y2="306.6" stroke="#000" stroke-width="0.8" />
<line x1="474.7" y1="306.4" x2="474.7" y2="311.6" stroke="#000" stroke-width="0.8" />
<line x1="473.4" y1="306.4" x2="476" y2="306.4" stroke="#000" stroke-width="0.8" />
<line x1="473.4" y1="311.6" x2="476" y2="311.6" stroke="#000" stroke-width="0.8" />
<line x1="497.5" y1="301.8" x2="497.5" y2="305.6" stroke="#000" stroke-width="0.8" />
<line x1="496.2" y1="301.8" x2="498.8" y2="301.8" stroke="#000" stroke-width="0.8" />
<line x1="496.2" y1="305.6" x2="498.8" y2="305.6" stroke="#000" stroke-width="0.8" />
<line x1="497.5" y1="305" x2="497.5" y2="310" stroke="#000" stroke-width="0.8" />
<line x1="496.2" y1="305" x2="498.8" y2="305" stroke="#000" stroke-width="0.8" />
<line x1="496.2" y1="310" x2="498.8" y2="310" stroke="#000" stroke-width="0.8" />
<polyline points="406.2,307.5 429.5,309.5 452,308.7 474.7,307.9 497.5,306.7" fill="none" stroke="#10497f" stroke-width="1.3"/>
<circle cx="406.2" cy="307.5" r="1.6" fill="#10497f" />
<circle cx="429.5" cy="309.5" r="1.6" fill="#10497f" />
<circle cx="452" cy="308.7" r="1.6" fill="#10497f" />
<circle cx="474.7" cy="307.9" r="1.6" fill="#10497f" />
<circle cx="497.5" cy="306.7" r="1.6" fill="#10497f" />
<polyline points="406.2,307.5 429.5,307.5 452,306.1 474.7,304.7 497.5,303.7" fill="none" stroke="#c8102e" stroke-width="1.3"/>
<circle cx="406.2" cy="307.5" r="1.6" fill="#c8102e" />
<circle cx="429.5" cy="307.5" r="1.6" fill="#c8102e" />
<circle cx="452" cy="306.1" r="1.6" fill="#c8102e" />
<circle cx="474.7" cy="304.7" r="1.6" fill="#c8102e" />
<circle cx="497.5" cy="303.7" r="1.6" fill="#c8102e" />
<line x1="435" y1="336.2" x2="442.5" y2="336.2" stroke="#10497f" stroke-width="1.6" />
<circle cx="438.75" cy="336.2" r="1.75" fill="#10497f" />
<text x="445.7" y="338.4" font-size="7.8" textLength="49.3" lengthAdjust="spacingAndGlyphs">Plcg1<tspan font-size="5.15" dy="-2.96">–/–</tspan><tspan dy="2.96"> (n=11)</tspan></text>
<line x1="435" y1="345.5" x2="442.5" y2="345.5" stroke="#c8102e" stroke-width="1.6" />
<circle cx="438.75" cy="345.5" r="1.75" fill="#c8102e" />
<text x="445.7" y="347.7" font-size="7.8" textLength="46.8" lengthAdjust="spacingAndGlyphs">Plcg1<tspan font-size="5.15" dy="-2.96">+/+</tspan><tspan dy="2.96"> (n=6)</tspan></text>
<text x="361.9" y="397.1" font-size="11" font-weight="bold" stroke-width="0.5" >I</text>
<line x1="397" y1="423" x2="510.8" y2="423" stroke="#6a6a6a" stroke-width="1.1" stroke-dasharray="1 1"/>
<line x1="397" y1="451.2" x2="510.8" y2="451.2" stroke="#6a6a6a" stroke-width="1.1" stroke-dasharray="1 1"/>
<rect x="396.7" y="403.3" width="114.6" height="76" fill="none" stroke="#000" stroke-width="1.2"/>
<line x1="393.7" y1="479.3" x2="396.7" y2="479.3" stroke="#000" stroke-width="0.8" />
<line x1="394.9" y1="470.83" x2="396.7" y2="470.83" stroke="#000" stroke-width="0.8" />
<line x1="394.9" y1="465.87" x2="396.7" y2="465.87" stroke="#000" stroke-width="0.8" />
<line x1="394.9" y1="462.35" x2="396.7" y2="462.35" stroke="#000" stroke-width="0.8" />
<line x1="394.9" y1="459.62" x2="396.7" y2="459.62" stroke="#000" stroke-width="0.8" />
<line x1="394.9" y1="457.4" x2="396.7" y2="457.4" stroke="#000" stroke-width="0.8" />
<line x1="394.9" y1="455.51" x2="396.7" y2="455.51" stroke="#000" stroke-width="0.8" />
<line x1="394.9" y1="453.88" x2="396.7" y2="453.88" stroke="#000" stroke-width="0.8" />
<line x1="394.9" y1="452.44" x2="396.7" y2="452.44" stroke="#000" stroke-width="0.8" />
<line x1="393.7" y1="451.15" x2="396.7" y2="451.15" stroke="#000" stroke-width="0.8" />
<line x1="394.9" y1="442.68" x2="396.7" y2="442.68" stroke="#000" stroke-width="0.8" />
<line x1="394.9" y1="437.72" x2="396.7" y2="437.72" stroke="#000" stroke-width="0.8" />
<line x1="394.9" y1="434.2" x2="396.7" y2="434.2" stroke="#000" stroke-width="0.8" />
<line x1="394.9" y1="431.47" x2="396.7" y2="431.47" stroke="#000" stroke-width="0.8" />
<line x1="394.9" y1="429.25" x2="396.7" y2="429.25" stroke="#000" stroke-width="0.8" />
<line x1="394.9" y1="427.36" x2="396.7" y2="427.36" stroke="#000" stroke-width="0.8" />
<line x1="394.9" y1="425.73" x2="396.7" y2="425.73" stroke="#000" stroke-width="0.8" />
<line x1="394.9" y1="424.29" x2="396.7" y2="424.29" stroke="#000" stroke-width="0.8" />
<line x1="393.7" y1="423" x2="396.7" y2="423" stroke="#000" stroke-width="0.8" />
<line x1="394.9" y1="414.53" x2="396.7" y2="414.53" stroke="#000" stroke-width="0.8" />
<line x1="394.9" y1="409.57" x2="396.7" y2="409.57" stroke="#000" stroke-width="0.8" />
<line x1="394.9" y1="406.05" x2="396.7" y2="406.05" stroke="#000" stroke-width="0.8" />
<line x1="394.9" y1="403.32" x2="396.7" y2="403.32" stroke="#000" stroke-width="0.8" />
<text x="391.1" y="425.8" font-size="7.8" text-anchor="end" >100</text>
<text x="391.1" y="454" font-size="7.8" text-anchor="end" >10</text>
<text x="391.1" y="482.1" font-size="7.8" text-anchor="end" >1</text>
<line x1="408" y1="479.3" x2="408" y2="482.3" stroke="#000" stroke-width="0.9" />
<line x1="430.7" y1="479.3" x2="430.7" y2="482.3" stroke="#000" stroke-width="0.9" />
<line x1="453.7" y1="479.3" x2="453.7" y2="482.3" stroke="#000" stroke-width="0.9" />
<line x1="476.7" y1="479.3" x2="476.7" y2="482.3" stroke="#000" stroke-width="0.9" />
<line x1="499.2" y1="479.3" x2="499.2" y2="482.3" stroke="#000" stroke-width="0.9" />
<text x="408.3" y="492" font-size="8.3" text-anchor="middle" textLength="19.3" lengthAdjust="spacingAndGlyphs" >Insert</text>
<text x="430.7" y="492" font-size="8.2" text-anchor="middle" >4</text>
<text x="453.7" y="492" font-size="8.2" text-anchor="middle" >8</text>
<text x="476.7" y="492" font-size="8.2" text-anchor="middle" >12</text>
<text x="499.2" y="492" font-size="8.2" text-anchor="middle" >16</text>
<text x="418.7" y="504.6" font-size="10.6" textLength="70.3" lengthAdjust="spacingAndGlyphs" >Week post-transplant</text>
<text x="373.12" y="441.9" font-size="9.5" text-anchor="middle" stroke-width="0.22" transform="rotate(-90 373.12 441.9)" textLength="53.5" lengthAdjust="spacingAndGlyphs">Chimerism in %</text>
<line x1="453.7" y1="422.7" x2="453.7" y2="426.7" stroke="#000" stroke-width="0.8" />
<line x1="452.4" y1="422.7" x2="455" y2="422.7" stroke="#000" stroke-width="0.8" />
<line x1="452.4" y1="426.7" x2="455" y2="426.7" stroke="#000" stroke-width="0.8" />
<line x1="453.7" y1="423" x2="453.7" y2="426" stroke="#000" stroke-width="0.8" />
<line x1="452.4" y1="423" x2="455" y2="423" stroke="#000" stroke-width="0.8" />
<line x1="452.4" y1="426" x2="455" y2="426" stroke="#000" stroke-width="0.8" />
<line x1="476.7" y1="422.4" x2="476.7" y2="429" stroke="#000" stroke-width="0.8" />
<line x1="475.4" y1="422.4" x2="478" y2="422.4" stroke="#000" stroke-width="0.8" />
<line x1="475.4" y1="429" x2="478" y2="429" stroke="#000" stroke-width="0.8" />
<line x1="476.7" y1="423" x2="476.7" y2="428" stroke="#000" stroke-width="0.8" />
<line x1="475.4" y1="423" x2="478" y2="423" stroke="#000" stroke-width="0.8" />
<line x1="475.4" y1="428" x2="478" y2="428" stroke="#000" stroke-width="0.8" />
<line x1="499.2" y1="422.7" x2="499.2" y2="431.4" stroke="#000" stroke-width="0.8" />
<line x1="497.9" y1="422.7" x2="500.5" y2="422.7" stroke="#000" stroke-width="0.8" />
<line x1="497.9" y1="431.4" x2="500.5" y2="431.4" stroke="#000" stroke-width="0.8" />
<line x1="499.2" y1="423" x2="499.2" y2="428" stroke="#000" stroke-width="0.8" />
<line x1="497.9" y1="423" x2="500.5" y2="423" stroke="#000" stroke-width="0.8" />
<line x1="497.9" y1="428" x2="500.5" y2="428" stroke="#000" stroke-width="0.8" />
<polyline points="430.7,424.2 453.7,424.5 476.7,425 499.2,425" fill="none" stroke="#10497f" stroke-width="1.3"/>
<circle cx="430.7" cy="424.2" r="1.6" fill="#10497f" />
<circle cx="453.7" cy="424.5" r="1.6" fill="#10497f" />
<circle cx="476.7" cy="425" r="1.6" fill="#10497f" />
<circle cx="499.2" cy="425" r="1.6" fill="#10497f" />
<polyline points="430.7,425 453.7,425 476.7,425.5 499.2,426.5" fill="none" stroke="#c8102e" stroke-width="1.3"/>
<circle cx="430.7" cy="425" r="1.6" fill="#c8102e" />
<circle cx="453.7" cy="425" r="1.6" fill="#c8102e" />
<circle cx="476.7" cy="425.5" r="1.6" fill="#c8102e" />
<circle cx="499.2" cy="426.5" r="1.6" fill="#c8102e" />
<line x1="431.2" y1="459.5" x2="438.7" y2="459.5" stroke="#10497f" stroke-width="1.6" />
<circle cx="434.95" cy="459.5" r="1.75" fill="#10497f" />
<text x="441.9" y="461.7" font-size="7.8" textLength="49.5" lengthAdjust="spacingAndGlyphs">Plcg1<tspan font-size="5.15" dy="-2.96">–/–</tspan><tspan dy="2.96"> (n=10)</tspan></text>
<line x1="431.2" y1="469.5" x2="438.7" y2="469.5" stroke="#c8102e" stroke-width="1.6" />
<circle cx="434.95" cy="469.5" r="1.75" fill="#c8102e" />
<text x="441.9" y="471.7" font-size="7.8" textLength="50.5" lengthAdjust="spacingAndGlyphs">Plcg1<tspan font-size="5.15" dy="-2.96">+/+</tspan><tspan dy="2.96"> (n=11)</tspan></text>
<text x="6" y="397.1" font-size="11" font-weight="bold" stroke-width="0.5" >G</text>
<line x1="42.5" y1="406.8" x2="42.5" y2="495.1" stroke="#000" stroke-width="1.35" />
<line x1="41.9" y1="494.5" x2="174.4" y2="494.5" stroke="#000" stroke-width="1.35" />
<line x1="39.5" y1="494.5" x2="42.5" y2="494.5" stroke="#000" stroke-width="0.9" />
<text x="37" y="497.4" font-size="7.8" text-anchor="end" >0</text>
<line x1="39.5" y1="476.96" x2="42.5" y2="476.96" stroke="#000" stroke-width="0.9" />
<text x="37" y="479.86" font-size="7.8" text-anchor="end" >20</text>
<line x1="39.5" y1="459.42" x2="42.5" y2="459.42" stroke="#000" stroke-width="0.9" />
<text x="37" y="462.32" font-size="7.8" text-anchor="end" >40</text>
<line x1="39.5" y1="441.88" x2="42.5" y2="441.88" stroke="#000" stroke-width="0.9" />
<text x="37" y="444.78" font-size="7.8" text-anchor="end" >60</text>
<line x1="39.5" y1="424.34" x2="42.5" y2="424.34" stroke="#000" stroke-width="0.9" />
<text x="37" y="427.24" font-size="7.8" text-anchor="end" >80</text>
<line x1="39.5" y1="406.8" x2="42.5" y2="406.8" stroke="#000" stroke-width="0.9" />
<text x="37" y="409.7" font-size="7.8" text-anchor="end" >100</text>
<text x="18.12" y="448" font-size="9.5" text-anchor="middle" stroke-width="0.22" transform="rotate(-90 18.12 448)" textLength="57.7" lengthAdjust="spacingAndGlyphs">Chimerism in %</text>
<line x1="50.7" y1="494.5" x2="50.7" y2="497.5" stroke="#000" stroke-width="0.9" />
<line x1="62.4" y1="494.5" x2="62.4" y2="497.5" stroke="#000" stroke-width="0.9" />
<line x1="85.4" y1="494.5" x2="85.4" y2="497.5" stroke="#000" stroke-width="0.9" />
<line x1="97" y1="494.5" x2="97" y2="497.5" stroke="#000" stroke-width="0.9" />
<line x1="120.2" y1="494.5" x2="120.2" y2="497.5" stroke="#000" stroke-width="0.9" />
<line x1="131.8" y1="494.5" x2="131.8" y2="497.5" stroke="#000" stroke-width="0.9" />
<line x1="155" y1="494.5" x2="155" y2="497.5" stroke="#000" stroke-width="0.9" />
<line x1="166.6" y1="494.5" x2="166.6" y2="497.5" stroke="#000" stroke-width="0.9" />
<rect x="47.4" y="426.5" width="6.7" height="68" fill="#c8102e"/>
<line x1="50.75" y1="420.2" x2="50.75" y2="432.5" stroke="#000" stroke-width="0.8" />
<line x1="49.15" y1="432.5" x2="52.35" y2="432.5" stroke="#000" stroke-width="0.8" />
<line x1="49.15" y1="420.2" x2="52.35" y2="420.2" stroke="#000" stroke-width="0.8" />
<circle cx="48.5" cy="414.6" r="1.75" fill="#000" />
<circle cx="50.6" cy="417.7" r="1.75" fill="#000" />
<circle cx="52.6" cy="417.7" r="1.75" fill="#000" />
<circle cx="52.6" cy="426.9" r="1.75" fill="#000" />
<circle cx="50.6" cy="429.3" r="1.75" fill="#000" />
<circle cx="50.4" cy="448.2" r="1.75" fill="#000" />
<rect x="59.1" y="426.9" width="6.7" height="67.6" fill="#10497f"/>
<line x1="62.45" y1="424.5" x2="62.45" y2="429.5" stroke="#000" stroke-width="0.8" />
<line x1="60.85" y1="429.5" x2="64.05" y2="429.5" stroke="#000" stroke-width="0.8" />
<line x1="60.85" y1="424.5" x2="64.05" y2="424.5" stroke="#000" stroke-width="0.8" />
<circle cx="59.8" cy="422.1" r="1.75" fill="#000" />
<circle cx="61.8" cy="421.6" r="1.75" fill="#000" />
<circle cx="63.7" cy="423.5" r="1.75" fill="#000" />
<circle cx="62.2" cy="425.5" r="1.75" fill="#000" />
<circle cx="62.2" cy="429.8" r="1.75" fill="#000" />
<circle cx="62.2" cy="435.6" r="1.75" fill="#000" />
<rect x="82.1" y="439" width="6.7" height="55.5" fill="#c8102e"/>
<line x1="85.45" y1="436.5" x2="85.45" y2="441.5" stroke="#000" stroke-width="0.8" />
<line x1="83.85" y1="441.5" x2="87.05" y2="441.5" stroke="#000" stroke-width="0.8" />
<line x1="83.85" y1="436.5" x2="87.05" y2="436.5" stroke="#000" stroke-width="0.8" />
<circle cx="83.1" cy="432.7" r="1.75" fill="#000" />
<circle cx="87.5" cy="430.8" r="1.75" fill="#000" />
<circle cx="83.7" cy="439" r="1.75" fill="#000" />
<circle cx="87.5" cy="437.7" r="1.75" fill="#000" />
<circle cx="83.7" cy="445.8" r="1.75" fill="#000" />
<circle cx="87.5" cy="443.5" r="1.75" fill="#000" />
<rect x="93.7" y="443.5" width="6.7" height="51" fill="#10497f"/>
<line x1="97.05" y1="438.5" x2="97.05" y2="448.5" stroke="#000" stroke-width="0.8" />
<line x1="95.45" y1="448.5" x2="98.65" y2="448.5" stroke="#000" stroke-width="0.8" />
<line x1="95.45" y1="438.5" x2="98.65" y2="438.5" stroke="#000" stroke-width="0.8" />
<circle cx="97.1" cy="428.1" r="1.75" fill="#000" />
<circle cx="95.2" cy="434.2" r="1.75" fill="#000" />
<circle cx="99" cy="437.7" r="1.75" fill="#000" />
<circle cx="95.2" cy="439.6" r="1.75" fill="#000" />
<circle cx="97.1" cy="454.8" r="1.75" fill="#000" />
<circle cx="97.1" cy="463.5" r="1.75" fill="#000" />
<rect x="116.9" y="439.4" width="6.7" height="55.1" fill="#c8102e"/>
<line x1="120.25" y1="437" x2="120.25" y2="442" stroke="#000" stroke-width="0.8" />
<line x1="118.65" y1="442" x2="121.85" y2="442" stroke="#000" stroke-width="0.8" />
<line x1="118.65" y1="437" x2="121.85" y2="437" stroke="#000" stroke-width="0.8" />
<circle cx="118.3" cy="433.3" r="1.75" fill="#000" />
<circle cx="122.1" cy="431.9" r="1.75" fill="#000" />
<circle cx="118.3" cy="440" r="1.75" fill="#000" />
<circle cx="122.1" cy="438.1" r="1.75" fill="#000" />
<circle cx="118.8" cy="445.4" r="1.75" fill="#000" />
<circle cx="122.1" cy="444.8" r="1.75" fill="#000" />
<rect x="128.5" y="445.4" width="6.7" height="49.1" fill="#10497f"/>
<line x1="131.85" y1="440" x2="131.85" y2="451" stroke="#000" stroke-width="0.8" />
<line x1="130.25" y1="451" x2="133.45" y2="451" stroke="#000" stroke-width="0.8" />
<line x1="130.25" y1="440" x2="133.45" y2="440" stroke="#000" stroke-width="0.8" />
<circle cx="131.7" cy="428.8" r="1.75" fill="#000" />
<circle cx="129.8" cy="436.5" r="1.75" fill="#000" />
<circle cx="134.2" cy="439" r="1.75" fill="#000" />
<circle cx="130.4" cy="441.5" r="1.75" fill="#000" />
<circle cx="131.7" cy="457.7" r="1.75" fill="#000" />
<circle cx="131.7" cy="466" r="1.75" fill="#000" />
<rect x="151.7" y="439.4" width="6.7" height="55.1" fill="#c8102e"/>
<line x1="155.05" y1="436" x2="155.05" y2="443" stroke="#000" stroke-width="0.8" />
<line x1="153.45" y1="443" x2="156.65" y2="443" stroke="#000" stroke-width="0.8" />
<line x1="153.45" y1="436" x2="156.65" y2="436" stroke="#000" stroke-width="0.8" />
<circle cx="155.2" cy="430.8" r="1.75" fill="#000" />
<circle cx="152.9" cy="434.8" r="1.75" fill="#000" />
<circle cx="157.3" cy="435.2" r="1.75" fill="#000" />
<circle cx="154.8" cy="439.6" r="1.75" fill="#000" />
<circle cx="155.4" cy="444.8" r="1.75" fill="#000" />
<circle cx="155.4" cy="448.7" r="1.75" fill="#000" />
<rect x="163.3" y="443.8" width="6.7" height="50.7" fill="#10497f"/>
<line x1="166.65" y1="438.5" x2="166.65" y2="449" stroke="#000" stroke-width="0.8" />
<line x1="165.05" y1="449" x2="168.25" y2="449" stroke="#000" stroke-width="0.8" />
<line x1="165.05" y1="438.5" x2="168.25" y2="438.5" stroke="#000" stroke-width="0.8" />
<circle cx="166.9" cy="428.8" r="1.75" fill="#000" />
<circle cx="166.9" cy="437.1" r="1.75" fill="#000" />
<circle cx="164.4" cy="442.5" r="1.75" fill="#000" />
<circle cx="167.7" cy="444.8" r="1.75" fill="#000" />
<circle cx="172.1" cy="445.4" r="1.75" fill="#000" />
<circle cx="166.9" cy="462.1" r="1.75" fill="#000" />
<text x="57" y="507.6" font-size="8.2" text-anchor="middle" >Gr-1</text>
<text x="91" y="507.6" font-size="8.2" text-anchor="middle" >B220</text>
<text x="126.2" y="507.6" font-size="8.2" text-anchor="middle" >CD19</text>
<text x="161" y="507.6" font-size="8.2" text-anchor="middle" >CD3</text>
<rect x="70" y="404.2" width="3.6" height="3.6" fill="#c8102e"/>
<text x="78.3" y="408.2" font-size="7.8" textLength="26.3" lengthAdjust="spacingAndGlyphs">Plcg1<tspan font-size="5.15" dy="-2.96">+/+</tspan></text>
<rect x="114.8" y="404.2" width="3.6" height="3.6" fill="#10497f"/>
<text x="123" y="408.2" font-size="7.8" textLength="25.5" lengthAdjust="spacingAndGlyphs">Plcg1<tspan font-size="5.15" dy="-2.96">–/–</tspan></text>
<text x="194.4" y="397.1" font-size="11" font-weight="bold" stroke-width="0.5" >H</text>
<line x1="230.6" y1="412.5" x2="230.6" y2="495.6" stroke="#000" stroke-width="1.35" />
<line x1="230" y1="495" x2="328.8" y2="495" stroke="#000" stroke-width="1.35" />
<line x1="227.6" y1="495" x2="230.6" y2="495" stroke="#000" stroke-width="0.9" />
<text x="225.2" y="497.9" font-size="7.8" text-anchor="end" >0</text>
<line x1="227.6" y1="478.5" x2="230.6" y2="478.5" stroke="#000" stroke-width="0.9" />
<text x="225.2" y="481.4" font-size="7.8" text-anchor="end" >20</text>
<line x1="227.6" y1="462" x2="230.6" y2="462" stroke="#000" stroke-width="0.9" />
<text x="225.2" y="464.9" font-size="7.8" text-anchor="end" >40</text>
<line x1="227.6" y1="445.5" x2="230.6" y2="445.5" stroke="#000" stroke-width="0.9" />
<text x="225.2" y="448.4" font-size="7.8" text-anchor="end" >60</text>
<line x1="227.6" y1="429" x2="230.6" y2="429" stroke="#000" stroke-width="0.9" />
<text x="225.2" y="431.9" font-size="7.8" text-anchor="end" >80</text>
<line x1="227.6" y1="412.5" x2="230.6" y2="412.5" stroke="#000" stroke-width="0.9" />
<text x="225.2" y="415.4" font-size="7.8" text-anchor="end" >100</text>
<text x="206.52" y="453.4" font-size="9.5" text-anchor="middle" stroke-width="0.22" transform="rotate(-90 206.52 453.4)" textLength="52.5" lengthAdjust="spacingAndGlyphs">Chimerism in %</text>
<line x1="238.5" y1="495" x2="238.5" y2="498" stroke="#000" stroke-width="0.9" />
<line x1="250.3" y1="495" x2="250.3" y2="498" stroke="#000" stroke-width="0.9" />
<line x1="273.8" y1="495" x2="273.8" y2="498" stroke="#000" stroke-width="0.9" />
<line x1="285.6" y1="495" x2="285.6" y2="498" stroke="#000" stroke-width="0.9" />
<line x1="309.3" y1="495" x2="309.3" y2="498" stroke="#000" stroke-width="0.9" />
<line x1="321" y1="495" x2="321" y2="498" stroke="#000" stroke-width="0.9" />
<rect x="234.9" y="431" width="7.1" height="64" fill="#c8102e"/>
<line x1="238.45" y1="425.1" x2="238.45" y2="435.2" stroke="#000" stroke-width="0.8" />
<line x1="236.85" y1="435.2" x2="240.05" y2="435.2" stroke="#000" stroke-width="0.8" />
<line x1="236.85" y1="425.1" x2="240.05" y2="425.1" stroke="#000" stroke-width="0.8" />
<circle cx="236" cy="419.3" r="1.75" fill="#000" />
<circle cx="238.7" cy="422.2" r="1.75" fill="#000" />
<circle cx="241.1" cy="422.2" r="1.75" fill="#000" />
<circle cx="240.6" cy="430.4" r="1.75" fill="#000" />
<circle cx="238.7" cy="432.8" r="1.75" fill="#000" />
<circle cx="238.2" cy="455.1" r="1.75" fill="#000" />
<rect x="246.7" y="431.5" width="7.1" height="63.5" fill="#10497f"/>
<line x1="250.25" y1="429.5" x2="250.25" y2="433.5" stroke="#000" stroke-width="0.8" />
<line x1="248.65" y1="433.5" x2="251.85" y2="433.5" stroke="#000" stroke-width="0.8" />
<line x1="248.65" y1="429.5" x2="251.85" y2="429.5" stroke="#000" stroke-width="0.8" />
<circle cx="250.2" cy="426.3" r="1.75" fill="#000" />
<circle cx="247.8" cy="429.9" r="1.75" fill="#000" />
<circle cx="251.9" cy="430.6" r="1.75" fill="#000" />
<circle cx="253.4" cy="431.5" r="1.75" fill="#000" />
<circle cx="249.5" cy="431.8" r="1.75" fill="#000" />
<circle cx="250.2" cy="438.3" r="1.75" fill="#000" />
<rect x="270.2" y="441.9" width="7.1" height="53.1" fill="#c8102e"/>
<line x1="273.75" y1="437.5" x2="273.75" y2="446" stroke="#000" stroke-width="0.8" />
<line x1="272.15" y1="446" x2="275.35" y2="446" stroke="#000" stroke-width="0.8" />
<line x1="272.15" y1="437.5" x2="275.35" y2="437.5" stroke="#000" stroke-width="0.8" />
<circle cx="271.25" cy="431.25" r="1.75" fill="#000" />
<circle cx="276.25" cy="431.25" r="1.75" fill="#000" />
<circle cx="273.75" cy="435.6" r="1.75" fill="#000" />
<circle cx="273.5" cy="439.75" r="1.75" fill="#000" />
<circle cx="273.75" cy="446" r="1.75" fill="#000" />
<circle cx="273.5" cy="464.1" r="1.75" fill="#000" />
<rect x="282" y="438.3" width="7.1" height="56.7" fill="#10497f"/>
<line x1="285.55" y1="436" x2="285.55" y2="440.5" stroke="#000" stroke-width="0.8" />
<line x1="283.95" y1="440.5" x2="287.15" y2="440.5" stroke="#000" stroke-width="0.8" />
<line x1="283.95" y1="436" x2="287.15" y2="436" stroke="#000" stroke-width="0.8" />
<circle cx="285.6" cy="429.9" r="1.75" fill="#000" />
<circle cx="285.6" cy="434.2" r="1.75" fill="#000" />
<circle cx="282.7" cy="438.8" r="1.75" fill="#000" />
<circle cx="288" cy="440.2" r="1.75" fill="#000" />
<circle cx="283.9" cy="443.1" r="1.75" fill="#000" />
<circle cx="285.6" cy="444.3" r="1.75" fill="#000" />
<rect x="305.7" y="445.5" width="7.1" height="49.5" fill="#c8102e"/>
<line x1="309.25" y1="442.5" x2="309.25" y2="449.5" stroke="#000" stroke-width="0.8" />
<line x1="307.65" y1="449.5" x2="310.85" y2="449.5" stroke="#000" stroke-width="0.8" />
<line x1="307.65" y1="442.5" x2="310.85" y2="442.5" stroke="#000" stroke-width="0.8" />
<circle cx="309" cy="430.25" r="1.75" fill="#000" />
<circle cx="307.25" cy="443.5" r="1.75" fill="#000" />
<circle cx="311" cy="444.4" r="1.75" fill="#000" />
<circle cx="309.4" cy="443.75" r="1.75" fill="#000" />
<circle cx="309" cy="449" r="1.75" fill="#000" />
<circle cx="309" cy="457.9" r="1.75" fill="#000" />
<rect x="317.5" y="447.4" width="7.1" height="47.6" fill="#10497f"/>
<line x1="321.05" y1="443.5" x2="321.05" y2="451.5" stroke="#000" stroke-width="0.8" />
<line x1="319.45" y1="451.5" x2="322.65" y2="451.5" stroke="#000" stroke-width="0.8" />
<line x1="319.45" y1="443.5" x2="322.65" y2="443.5" stroke="#000" stroke-width="0.8" />
<circle cx="320.9" cy="433.75" r="1.75" fill="#000" />
<circle cx="323.1" cy="442.25" r="1.75" fill="#000" />
<circle cx="318.5" cy="445" r="1.75" fill="#000" />
<circle cx="322.75" cy="446.25" r="1.75" fill="#000" />
<circle cx="320.9" cy="446.9" r="1.75" fill="#000" />
<circle cx="320.9" cy="467.5" r="1.75" fill="#000" />
<text x="244.2" y="507.6" font-size="8.2" text-anchor="middle" >MPP</text>
<text x="279.6" y="507.6" font-size="8.2" text-anchor="middle" >LSK</text>
<text x="315.8" y="507.6" font-size="8.2" text-anchor="middle" >HSC</text>
<rect x="248.3" y="404.4" width="3.4" height="3.4" fill="#c8102e"/>
<text x="255.5" y="408.2" font-size="7.8" textLength="27.2" lengthAdjust="spacingAndGlyphs">Plcg1<tspan font-size="5.15" dy="-2.96">+/+</tspan></text>
<rect x="292.3" y="404.4" width="3.4" height="3.4" fill="#10497f"/>
<text x="300" y="408.2" font-size="7.8" textLength="26" lengthAdjust="spacingAndGlyphs">Plcg1<tspan font-size="5.15" dy="-2.96">–/–</tspan></text>
</svg></body></html>
